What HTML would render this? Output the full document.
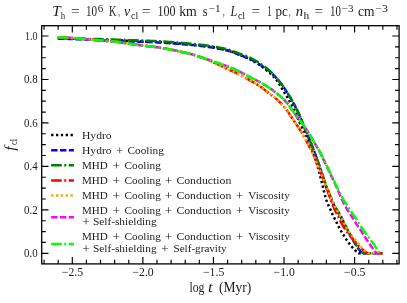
<!DOCTYPE html>
<html><head><meta charset="utf-8"><title>plot</title>
<style>html,body{margin:0;padding:0;background:#fff}svg{display:block}</style></head>
<body>
<svg width="407" height="303" viewBox="0 0 407 303">
<rect x="0" y="0" width="407" height="303" fill="#fff"/>
<path d="M57.80 38.10 L59.40 38.15 L59.89 38.17 L60.44 38.19 L61.04 38.21 L61.70 38.23 L62.38 38.25 L63.09 38.27 L63.82 38.30 L64.56 38.32 L65.30 38.35 L66.05 38.38 L66.80 38.40 L67.54 38.43 L68.29 38.46 L69.04 38.48 L69.79 38.51 L70.54 38.54 L71.29 38.57 L72.04 38.59 L72.79 38.62 L73.54 38.65 L74.29 38.68 L75.04 38.71 L75.79 38.74 L76.54 38.76 L77.29 38.79 L78.04 38.82 L78.79 38.85 L79.54 38.88 L80.29 38.92 L81.03 38.95 L81.78 38.98 L82.53 39.01 L83.28 39.04 L84.03 39.08 L84.78 39.11 L85.53 39.14 L86.28 39.18 L87.03 39.21 L87.78 39.25 L88.53 39.28 L89.28 39.32 L90.03 39.35 L90.77 39.39 L91.52 39.42 L92.27 39.46 L93.02 39.49 L93.77 39.53 L94.52 39.56 L95.27 39.59 L96.02 39.63 L96.77 39.66 L97.52 39.69 L98.27 39.72 L99.02 39.76 L99.77 39.79 L100.52 39.82 L101.26 39.85 L102.01 39.87 L102.76 39.90 L103.51 39.93 L104.26 39.96 L105.01 39.99 L105.76 40.01 L106.51 40.04 L107.26 40.07 L108.01 40.09 L108.76 40.12 L109.51 40.14 L110.26 40.17 L111.01 40.19 L111.76 40.22 L112.51 40.25 L113.26 40.27 L114.01 40.30 L114.76 40.32 L115.51 40.35 L116.26 40.37 L117.00 40.40 L117.75 40.42 L118.50 40.45 L119.25 40.47 L120.00 40.50 L120.75 40.53 L121.50 40.55 L122.25 40.58 L123.00 40.60 L123.75 40.63 L124.50 40.66 L125.25 40.68 L126.00 40.71 L126.75 40.73 L127.50 40.76 L128.25 40.78 L129.00 40.81 L129.75 40.84 L130.50 40.86 L131.25 40.89 L132.00 40.91 L132.75 40.94 L133.50 40.97 L134.24 40.99 L134.99 41.02 L135.74 41.05 L136.49 41.07 L137.24 41.10 L137.99 41.13 L138.74 41.15 L139.49 41.18 L140.24 41.21 L140.99 41.24 L141.74 41.26 L142.49 41.29 L143.24 41.32 L143.99 41.34 L144.74 41.37 L145.49 41.40 L146.24 41.43 L146.99 41.45 L147.74 41.48 L148.49 41.51 L149.24 41.54 L149.99 41.57 L150.73 41.59 L151.48 41.62 L152.23 41.65 L152.98 41.68 L153.73 41.72 L154.48 41.75 L155.23 41.78 L155.98 41.81 L156.73 41.85 L157.48 41.88 L158.23 41.92 L158.98 41.96 L159.72 42.00 L160.47 42.04 L161.22 42.08 L161.97 42.12 L162.72 42.17 L163.47 42.22 L164.22 42.26 L164.96 42.31 L165.71 42.37 L166.46 42.42 L167.21 42.47 L167.96 42.53 L168.70 42.58 L169.45 42.64 L170.20 42.70 L170.95 42.76 L171.70 42.82 L172.44 42.88 L173.19 42.94 L173.94 43.00 L174.69 43.06 L175.43 43.12 L176.18 43.18 L176.93 43.24 L177.68 43.31 L178.42 43.37 L179.17 43.43 L179.92 43.49 L180.67 43.55 L181.41 43.61 L182.16 43.67 L182.91 43.74 L183.66 43.80 L184.41 43.86 L185.15 43.92 L185.90 43.98 L186.65 44.04 L187.40 44.10 L188.14 44.17 L188.89 44.23 L189.64 44.29 L190.39 44.36 L191.13 44.42 L191.88 44.49 L192.63 44.56 L193.38 44.63 L194.12 44.70 L194.87 44.77 L195.61 44.85 L196.36 44.92 L197.11 45.00 L197.85 45.08 L198.60 45.16 L199.34 45.25 L200.09 45.33 L200.83 45.42 L201.57 45.51 L202.32 45.61 L203.06 45.70 L203.80 45.80 L204.55 45.91 L205.29 46.01 L206.03 46.12 L206.77 46.23 L207.52 46.34 L208.26 46.46 L209.00 46.58 L209.74 46.70 L210.48 46.82 L211.22 46.95 L211.96 47.07 L212.70 47.20 L213.44 47.33 L214.18 47.46 L214.91 47.60 L215.65 47.73 L216.39 47.87 L217.13 48.01 L217.87 48.16 L218.60 48.30 L219.34 48.45 L220.08 48.60 L220.81 48.75 L221.55 48.91 L222.28 49.07 L223.02 49.23 L223.75 49.40 L224.48 49.57 L225.21 49.75 L225.94 49.93 L226.66 50.12 L227.38 50.32 L228.10 50.52 L228.82 50.73 L229.53 50.95 L230.24 51.17 L230.94 51.41 L231.65 51.66 L232.35 51.91 L233.05 52.18 L233.74 52.46 L234.44 52.74 L235.13 53.03 L235.82 53.32 L236.51 53.62 L237.20 53.92 L237.89 54.22 L238.58 54.52 L239.27 54.82 L239.96 55.11 L240.66 55.40 L241.35 55.69 L242.05 55.97 L242.74 56.25 L243.44 56.53 L244.14 56.80 L244.84 57.08 L245.54 57.36 L246.23 57.64 L246.92 57.92 L247.61 58.22 L248.30 58.52 L248.98 58.82 L249.66 59.14 L250.33 59.47 L251.00 59.81 L251.66 60.15 L252.32 60.51 L252.98 60.87 L253.63 61.24 L254.28 61.62 L254.92 62.00 L255.57 62.38 L256.21 62.78 L256.84 63.17 L257.48 63.58 L258.11 63.98 L258.74 64.39 L259.36 64.81 L259.98 65.23 L260.60 65.65 L261.21 66.09 L261.82 66.52 L262.42 66.96 L263.02 67.41 L263.62 67.87 L264.21 68.33 L264.80 68.79 L265.39 69.26 L265.97 69.73 L266.54 70.21 L267.12 70.70 L267.69 71.19 L268.25 71.68 L268.82 72.18 L269.38 72.68 L269.93 73.18 L270.49 73.69 L271.04 74.20 L271.58 74.72 L272.13 75.24 L272.66 75.77 L273.19 76.30 L273.72 76.84 L274.23 77.38 L274.73 77.93 L275.23 78.49 L275.71 79.05 L276.18 79.63 L276.64 80.21 L277.09 80.80 L277.53 81.40 L277.96 82.01 L278.38 82.63 L278.79 83.25 L279.19 83.88 L279.59 84.51 L279.99 85.15 L280.37 85.80 L280.76 86.44 L281.14 87.09 L281.52 87.74 L281.90 88.39 L282.28 89.05 L282.67 89.70 L283.05 90.35 L283.43 91.00 L283.82 91.64 L284.20 92.29 L284.59 92.93 L284.98 93.57 L285.37 94.21 L285.76 94.86 L286.16 95.50 L286.55 96.14 L286.94 96.78 L287.33 97.42 L287.72 98.06 L288.11 98.70 L288.49 99.35 L288.87 99.99 L289.25 100.64 L289.62 101.29 L289.99 101.94 L290.36 102.59 L290.72 103.25 L291.09 103.91 L291.44 104.56 L291.80 105.23 L292.15 105.89 L292.50 106.55 L292.84 107.22 L293.18 107.89 L293.52 108.56 L293.86 109.23 L294.19 109.90 L294.51 110.58 L294.83 111.26 L295.15 111.94 L295.46 112.62 L295.77 113.30 L296.07 113.99 L296.36 114.68 L296.65 115.37 L296.93 116.07 L297.21 116.76 L297.48 117.46 L297.75 118.16 L298.02 118.86 L298.30 119.55 L298.58 120.25 L298.86 120.94 L299.15 121.63 L299.45 122.32 L299.77 123.00 L300.09 123.67 L300.42 124.35 L300.76 125.01 L301.11 125.68 L301.47 126.34 L301.83 126.99 L302.19 127.65 L302.56 128.30 L302.92 128.96 L303.28 129.61 L303.64 130.27 L303.99 130.93 L304.33 131.60 L304.67 132.27 L305.00 132.94 L305.33 133.61 L305.65 134.29 L305.97 134.97 L306.29 135.65 L306.60 136.33 L306.92 137.01 L307.23 137.70 L307.54 138.38 L307.85 139.06 L308.16 139.75 L308.46 140.43 L308.77 141.12 L309.07 141.80 L309.37 142.49 L309.67 143.18 L309.96 143.87 L310.25 144.56 L310.54 145.25 L310.83 145.95 L311.11 146.64 L311.39 147.34 L311.66 148.03 L311.93 148.73 L312.20 149.43 L312.46 150.13 L312.73 150.84 L312.98 151.54 L313.24 152.25 L313.49 152.95 L313.73 153.66 L313.98 154.37 L314.22 155.08 L314.46 155.79 L314.69 156.51 L314.92 157.22 L315.15 157.94 L315.37 158.65 L315.59 159.37 L315.81 160.09 L316.02 160.80 L316.23 161.52 L316.44 162.24 L316.65 162.96 L316.86 163.69 L317.07 164.41 L317.27 165.13 L317.48 165.85 L317.68 166.57 L317.89 167.29 L318.09 168.01 L318.29 168.74 L318.49 169.46 L318.68 170.18 L318.87 170.91 L319.06 171.64 L319.24 172.36 L319.42 173.09 L319.60 173.82 L319.78 174.55 L319.97 175.27 L320.15 176.00 L320.34 176.73 L320.52 177.45 L320.71 178.18 L320.90 178.90 L321.09 179.63 L321.28 180.36 L321.46 181.08 L321.64 181.81 L321.82 182.54 L322.00 183.27 L322.17 184.00 L322.34 184.73 L322.51 185.46 L322.68 186.19 L322.86 186.92 L323.03 187.65 L323.21 188.37 L323.39 189.10 L323.57 189.83 L323.76 190.56 L323.95 191.28 L324.14 192.01 L324.33 192.73 L324.53 193.46 L324.72 194.18 L324.91 194.91 L325.11 195.63 L325.31 196.36 L325.51 197.08 L325.71 197.80 L325.92 198.52 L326.13 199.24 L326.35 199.95 L326.59 200.66 L326.83 201.37 L327.09 202.07 L327.35 202.77 L327.63 203.46 L327.92 204.15 L328.22 204.84 L328.52 205.53 L328.83 206.21 L329.14 206.89 L329.45 207.58 L329.76 208.26 L330.07 208.94 L330.38 209.63 L330.69 210.31 L331.00 210.99 L331.31 211.68 L331.62 212.36 L331.93 213.04 L332.24 213.72 L332.56 214.40 L332.88 215.08 L333.20 215.76 L333.53 216.43 L333.87 217.10 L334.21 217.77 L334.55 218.44 L334.89 219.10 L335.24 219.77 L335.58 220.44 L335.92 221.10 L336.26 221.77 L336.60 222.44 L336.93 223.11 L337.26 223.79 L337.59 224.46 L337.92 225.14 L338.24 225.81 L338.57 226.48 L338.91 227.16 L339.24 227.82 L339.59 228.49 L339.95 229.14 L340.31 229.79 L340.69 230.44 L341.07 231.08 L341.46 231.72 L341.85 232.36 L342.25 233.00 L342.65 233.63 L343.04 234.27 L343.44 234.91 L343.84 235.54 L344.24 236.18 L344.64 236.81 L345.04 237.44 L345.45 238.07 L345.86 238.70 L346.27 239.33 L346.69 239.95 L347.12 240.57 L347.55 241.18 L347.98 241.79 L348.42 242.40 L348.86 243.01 L349.31 243.61 L349.76 244.20 L350.22 244.79 L350.69 245.38 L351.16 245.96 L351.64 246.54 L352.13 247.10 L352.63 247.66 L353.13 248.21 L353.64 248.75 L354.15 249.28 L354.66 249.79 L355.17 250.28 L355.66 250.74 L356.14 251.17 L356.58 251.57 L356.98 251.93 L357.34 252.23 L358.50 253.20 L382.60 253.20" fill="none" stroke="#000" stroke-width="2.50" stroke-dasharray="2.3 2.55" stroke-linejoin="round"/>
<path d="M57.80 38.60 L59.40 38.64 L59.89 38.65 L60.44 38.66 L61.05 38.68 L61.70 38.70 L62.38 38.71 L63.10 38.73 L63.82 38.75 L64.56 38.77 L65.30 38.80 L66.05 38.82 L66.80 38.84 L67.55 38.86 L68.30 38.89 L69.05 38.91 L69.80 38.94 L70.55 38.96 L71.30 38.99 L72.04 39.01 L72.79 39.04 L73.54 39.06 L74.29 39.09 L75.04 39.12 L75.79 39.14 L76.54 39.17 L77.29 39.20 L78.04 39.23 L78.79 39.26 L79.54 39.29 L80.29 39.32 L81.04 39.35 L81.79 39.38 L82.54 39.42 L83.29 39.45 L84.03 39.49 L84.78 39.52 L85.53 39.56 L86.28 39.60 L87.03 39.64 L87.78 39.68 L88.53 39.72 L89.28 39.76 L90.03 39.80 L90.78 39.84 L91.52 39.88 L92.27 39.92 L93.02 39.96 L93.77 40.00 L94.52 40.03 L95.27 40.07 L96.02 40.11 L96.77 40.15 L97.52 40.18 L98.27 40.22 L99.02 40.25 L99.76 40.28 L100.51 40.31 L101.26 40.34 L102.01 40.38 L102.76 40.40 L103.51 40.43 L104.26 40.46 L105.01 40.49 L105.76 40.52 L106.51 40.54 L107.26 40.57 L108.01 40.60 L108.76 40.62 L109.51 40.65 L110.26 40.67 L111.01 40.70 L111.76 40.72 L112.51 40.75 L113.26 40.77 L114.00 40.80 L114.75 40.82 L115.50 40.85 L116.25 40.87 L117.00 40.90 L117.75 40.92 L118.50 40.95 L119.25 40.98 L120.00 41.00 L120.75 41.03 L121.50 41.05 L122.25 41.08 L123.00 41.10 L123.75 41.13 L124.50 41.16 L125.25 41.18 L126.00 41.21 L126.75 41.23 L127.50 41.26 L128.25 41.28 L129.00 41.31 L129.75 41.34 L130.50 41.36 L131.25 41.39 L131.99 41.41 L132.74 41.44 L133.49 41.47 L134.24 41.49 L134.99 41.52 L135.74 41.55 L136.49 41.57 L137.24 41.60 L137.99 41.63 L138.74 41.65 L139.49 41.68 L140.24 41.71 L140.99 41.74 L141.74 41.76 L142.49 41.79 L143.24 41.82 L143.99 41.84 L144.74 41.87 L145.49 41.90 L146.24 41.93 L146.99 41.95 L147.74 41.98 L148.48 42.01 L149.23 42.04 L149.98 42.07 L150.73 42.09 L151.48 42.12 L152.23 42.15 L152.98 42.18 L153.73 42.22 L154.48 42.25 L155.23 42.28 L155.98 42.31 L156.73 42.35 L157.48 42.38 L158.23 42.42 L158.97 42.46 L159.72 42.50 L160.47 42.54 L161.22 42.58 L161.97 42.62 L162.72 42.67 L163.47 42.72 L164.21 42.76 L164.96 42.81 L165.71 42.86 L166.46 42.92 L167.21 42.97 L167.95 43.03 L168.70 43.08 L169.45 43.14 L170.20 43.20 L170.95 43.26 L171.69 43.32 L172.44 43.38 L173.19 43.44 L173.94 43.50 L174.68 43.56 L175.43 43.62 L176.18 43.68 L176.93 43.74 L177.68 43.81 L178.42 43.87 L179.17 43.93 L179.92 43.99 L180.67 44.05 L181.41 44.11 L182.16 44.18 L182.91 44.24 L183.66 44.30 L184.40 44.36 L185.15 44.42 L185.90 44.48 L186.65 44.54 L187.39 44.61 L188.14 44.67 L188.89 44.73 L189.64 44.80 L190.38 44.86 L191.13 44.93 L191.88 45.00 L192.63 45.06 L193.37 45.13 L194.12 45.20 L194.87 45.28 L195.61 45.35 L196.36 45.43 L197.10 45.50 L197.85 45.58 L198.59 45.66 L199.34 45.74 L200.08 45.83 L200.83 45.92 L201.57 46.00 L202.32 46.10 L203.06 46.19 L203.81 46.29 L204.55 46.39 L205.29 46.49 L206.04 46.59 L206.78 46.70 L207.52 46.81 L208.26 46.92 L209.00 47.03 L209.75 47.14 L210.49 47.26 L211.23 47.38 L211.97 47.50 L212.71 47.62 L213.45 47.75 L214.19 47.87 L214.93 48.00 L215.67 48.13 L216.41 48.26 L217.14 48.39 L217.88 48.53 L218.62 48.67 L219.36 48.81 L220.10 48.95 L220.84 49.09 L221.58 49.24 L222.31 49.39 L223.05 49.55 L223.78 49.71 L224.51 49.87 L225.24 50.04 L225.97 50.21 L226.70 50.39 L227.42 50.57 L228.15 50.76 L228.87 50.96 L229.58 51.17 L230.30 51.38 L231.01 51.61 L231.72 51.84 L232.42 52.08 L233.12 52.34 L233.83 52.60 L234.53 52.87 L235.22 53.14 L235.92 53.42 L236.62 53.70 L237.31 53.99 L238.01 54.27 L238.71 54.55 L239.41 54.83 L240.11 55.10 L240.81 55.37 L241.51 55.63 L242.22 55.89 L242.92 56.15 L243.63 56.41 L244.34 56.66 L245.04 56.92 L245.75 57.18 L246.45 57.44 L247.15 57.71 L247.84 57.98 L248.54 58.27 L249.22 58.56 L249.90 58.87 L250.58 59.18 L251.25 59.51 L251.92 59.85 L252.58 60.20 L253.24 60.55 L253.90 60.92 L254.55 61.29 L255.20 61.67 L255.84 62.05 L256.49 62.44 L257.12 62.83 L257.76 63.22 L258.40 63.63 L259.03 64.03 L259.66 64.44 L260.29 64.84 L260.92 65.26 L261.54 65.67 L262.17 66.09 L262.80 66.50 L263.42 66.92 L264.05 67.34 L264.67 67.76 L265.29 68.19 L265.91 68.62 L266.53 69.05 L267.14 69.49 L267.75 69.93 L268.35 70.38 L268.94 70.84 L269.52 71.30 L270.10 71.78 L270.66 72.26 L271.21 72.76 L271.76 73.27 L272.29 73.79 L272.82 74.32 L273.34 74.86 L273.85 75.40 L274.36 75.94 L274.87 76.49 L275.38 77.04 L275.89 77.60 L276.40 78.15 L276.90 78.70 L277.40 79.26 L277.90 79.82 L278.39 80.39 L278.88 80.95 L279.37 81.53 L279.84 82.11 L280.31 82.69 L280.78 83.28 L281.24 83.87 L281.69 84.47 L282.14 85.07 L282.58 85.67 L283.02 86.28 L283.45 86.89 L283.88 87.51 L284.30 88.13 L284.72 88.75 L285.14 89.37 L285.55 90.00 L285.95 90.63 L286.36 91.26 L286.76 91.90 L287.16 92.53 L287.56 93.17 L287.96 93.80 L288.35 94.44 L288.74 95.08 L289.13 95.72 L289.52 96.36 L289.91 97.01 L290.29 97.65 L290.67 98.30 L291.05 98.95 L291.43 99.59 L291.80 100.24 L292.18 100.89 L292.55 101.54 L292.92 102.20 L293.28 102.85 L293.65 103.51 L294.01 104.16 L294.37 104.82 L294.73 105.48 L295.08 106.14 L295.43 106.81 L295.78 107.47 L296.12 108.14 L296.46 108.81 L296.80 109.48 L297.13 110.15 L297.46 110.82 L297.79 111.50 L298.11 112.17 L298.43 112.85 L298.74 113.53 L299.05 114.22 L299.36 114.90 L299.66 115.59 L299.96 116.27 L300.26 116.96 L300.55 117.65 L300.83 118.35 L301.12 119.04 L301.40 119.74 L301.67 120.43 L301.95 121.13 L302.22 121.83 L302.49 122.53 L302.77 123.23 L303.04 123.93 L303.31 124.63 L303.58 125.33 L303.85 126.02 L304.13 126.72 L304.40 127.42 L304.68 128.12 L304.96 128.82 L305.23 129.51 L305.51 130.21 L305.79 130.90 L306.07 131.60 L306.36 132.29 L306.64 132.99 L306.93 133.68 L307.22 134.37 L307.51 135.06 L307.80 135.75 L308.10 136.44 L308.39 137.13 L308.69 137.82 L308.98 138.51 L309.28 139.20 L309.57 139.89 L309.87 140.58 L310.16 141.27 L310.45 141.96 L310.74 142.65 L311.03 143.35 L311.31 144.04 L311.59 144.74 L311.87 145.43 L312.15 146.13 L312.43 146.82 L312.70 147.52 L312.98 148.22 L313.24 148.92 L313.51 149.62 L313.78 150.32 L314.04 151.03 L314.30 151.73 L314.55 152.43 L314.81 153.14 L315.06 153.85 L315.32 154.55 L315.57 155.26 L315.82 155.97 L316.06 156.67 L316.31 157.38 L316.56 158.09 L316.80 158.80 L317.04 159.51 L317.29 160.22 L317.53 160.93 L317.77 161.64 L318.01 162.35 L318.25 163.06 L318.49 163.77 L318.72 164.48 L318.96 165.20 L319.20 165.91 L319.43 166.62 L319.67 167.33 L319.90 168.04 L320.14 168.76 L320.37 169.47 L320.60 170.18 L320.83 170.90 L321.07 171.61 L321.30 172.32 L321.53 173.04 L321.76 173.75 L321.99 174.46 L322.22 175.18 L322.44 175.89 L322.67 176.61 L322.90 177.32 L323.13 178.03 L323.36 178.75 L323.59 179.46 L323.82 180.18 L324.06 180.89 L324.29 181.60 L324.52 182.31 L324.76 183.03 L325.00 183.74 L325.24 184.45 L325.49 185.16 L325.73 185.86 L325.98 186.57 L326.24 187.27 L326.50 187.98 L326.76 188.68 L327.03 189.38 L327.30 190.08 L327.57 190.78 L327.85 191.48 L328.13 192.17 L328.41 192.87 L328.69 193.56 L328.98 194.26 L329.27 194.95 L329.56 195.64 L329.85 196.33 L330.14 197.02 L330.44 197.71 L330.74 198.40 L331.04 199.09 L331.35 199.77 L331.66 200.46 L331.97 201.14 L332.30 201.81 L332.63 202.48 L332.97 203.15 L333.32 203.81 L333.68 204.47 L334.04 205.12 L334.42 205.77 L334.80 206.41 L335.19 207.05 L335.58 207.69 L335.98 208.32 L336.38 208.96 L336.79 209.59 L337.19 210.22 L337.59 210.86 L337.99 211.49 L338.39 212.13 L338.79 212.77 L339.17 213.41 L339.56 214.05 L339.93 214.70 L340.30 215.35 L340.67 216.00 L341.02 216.66 L341.37 217.32 L341.72 217.99 L342.05 218.66 L342.39 219.33 L342.72 220.00 L343.05 220.68 L343.37 221.36 L343.70 222.03 L344.02 222.71 L344.34 223.39 L344.65 224.07 L344.97 224.75 L345.29 225.43 L345.61 226.11 L345.93 226.78 L346.25 227.46 L346.58 228.14 L346.91 228.81 L347.25 229.48 L347.58 230.15 L347.93 230.81 L348.27 231.48 L348.63 232.14 L348.98 232.80 L349.34 233.46 L349.70 234.12 L350.06 234.78 L350.42 235.43 L350.79 236.09 L351.16 236.74 L351.52 237.40 L351.89 238.05 L352.26 238.71 L352.63 239.36 L353.00 240.01 L353.37 240.66 L353.74 241.31 L354.12 241.96 L354.50 242.61 L354.89 243.25 L355.28 243.89 L355.67 244.53 L356.07 245.16 L356.47 245.79 L356.88 246.42 L357.30 247.04 L357.71 247.66 L358.14 248.26 L358.56 248.86 L358.98 249.44 L359.40 249.99 L359.80 250.52 L360.19 251.01 L360.54 251.45 L360.86 251.85 L361.14 252.18 L362.00 253.20 L382.60 253.20" fill="none" stroke="#0000ff" stroke-width="2.50" stroke-dasharray="6.4 2.45" stroke-linejoin="round"/>
<path d="M57.80 38.10 L59.40 38.16 L59.89 38.18 L60.44 38.20 L61.04 38.23 L61.70 38.25 L62.38 38.28 L63.09 38.30 L63.82 38.33 L64.56 38.35 L65.30 38.38 L66.05 38.41 L66.80 38.43 L67.54 38.46 L68.29 38.48 L69.04 38.51 L69.79 38.53 L70.54 38.55 L71.29 38.58 L72.04 38.60 L72.79 38.62 L73.54 38.64 L74.29 38.66 L75.04 38.68 L75.79 38.70 L76.54 38.72 L77.29 38.74 L78.04 38.75 L78.79 38.77 L79.54 38.78 L80.29 38.80 L81.04 38.81 L81.79 38.83 L82.54 38.84 L83.29 38.85 L84.04 38.87 L84.79 38.88 L85.54 38.89 L86.29 38.90 L87.04 38.91 L87.79 38.92 L88.54 38.93 L89.29 38.94 L90.04 38.95 L90.79 38.96 L91.54 38.97 L92.29 38.98 L93.04 38.99 L93.79 39.00 L94.54 39.01 L95.29 39.02 L96.04 39.03 L96.79 39.05 L97.54 39.06 L98.29 39.07 L99.04 39.09 L99.79 39.10 L100.54 39.12 L101.29 39.14 L102.04 39.16 L102.79 39.18 L103.53 39.20 L104.28 39.22 L105.03 39.24 L105.78 39.27 L106.53 39.29 L107.28 39.32 L108.03 39.35 L108.78 39.37 L109.53 39.40 L110.28 39.43 L111.03 39.46 L111.78 39.49 L112.53 39.51 L113.28 39.54 L114.03 39.57 L114.78 39.60 L115.53 39.63 L116.28 39.66 L117.03 39.69 L117.78 39.72 L118.53 39.74 L119.27 39.77 L120.02 39.80 L120.77 39.82 L121.52 39.85 L122.27 39.88 L123.02 39.90 L123.77 39.93 L124.52 39.96 L125.27 39.98 L126.02 40.01 L126.77 40.03 L127.52 40.06 L128.27 40.09 L129.02 40.11 L129.77 40.14 L130.52 40.16 L131.27 40.19 L132.02 40.21 L132.77 40.24 L133.52 40.27 L134.27 40.29 L135.02 40.32 L135.77 40.35 L136.51 40.37 L137.26 40.40 L138.01 40.43 L138.76 40.45 L139.51 40.48 L140.26 40.51 L141.01 40.54 L141.76 40.56 L142.51 40.59 L143.26 40.62 L144.01 40.65 L144.76 40.67 L145.51 40.70 L146.26 40.73 L147.01 40.75 L147.76 40.78 L148.51 40.81 L149.26 40.84 L150.01 40.87 L150.76 40.90 L151.51 40.92 L152.26 40.95 L153.00 40.99 L153.75 41.02 L154.50 41.05 L155.25 41.08 L156.00 41.11 L156.75 41.15 L157.50 41.18 L158.25 41.22 L159.00 41.26 L159.75 41.30 L160.49 41.34 L161.24 41.38 L161.99 41.43 L162.74 41.47 L163.49 41.52 L164.24 41.57 L164.99 41.62 L165.73 41.67 L166.48 41.72 L167.23 41.77 L167.98 41.83 L168.73 41.88 L169.47 41.94 L170.22 42.00 L170.97 42.06 L171.72 42.12 L172.46 42.18 L173.21 42.24 L173.96 42.30 L174.71 42.36 L175.46 42.42 L176.20 42.48 L176.95 42.55 L177.70 42.61 L178.45 42.67 L179.19 42.73 L179.94 42.79 L180.69 42.85 L181.44 42.92 L182.18 42.98 L182.93 43.04 L183.68 43.10 L184.43 43.16 L185.17 43.22 L185.92 43.28 L186.67 43.35 L187.42 43.41 L188.17 43.47 L188.91 43.54 L189.66 43.60 L190.41 43.67 L191.15 43.73 L191.90 43.80 L192.65 43.87 L193.40 43.94 L194.14 44.01 L194.89 44.08 L195.63 44.15 L196.38 44.23 L197.13 44.30 L197.87 44.38 L198.62 44.46 L199.36 44.55 L200.11 44.63 L200.85 44.72 L201.60 44.81 L202.34 44.90 L203.08 44.99 L203.83 45.09 L204.57 45.19 L205.31 45.29 L206.06 45.40 L206.80 45.50 L207.54 45.61 L208.28 45.72 L209.03 45.83 L209.77 45.95 L210.51 46.07 L211.25 46.18 L211.99 46.30 L212.73 46.43 L213.47 46.55 L214.21 46.68 L214.95 46.80 L215.69 46.93 L216.43 47.06 L217.17 47.20 L217.91 47.33 L218.65 47.47 L219.38 47.61 L220.12 47.75 L220.86 47.90 L221.60 48.05 L222.33 48.20 L223.07 48.35 L223.80 48.51 L224.54 48.67 L225.27 48.84 L226.00 49.01 L226.72 49.19 L227.45 49.38 L228.17 49.57 L228.89 49.77 L229.60 49.97 L230.32 50.19 L231.03 50.41 L231.74 50.65 L232.44 50.89 L233.15 51.15 L233.85 51.41 L234.55 51.68 L235.25 51.95 L235.94 52.23 L236.64 52.51 L237.34 52.79 L238.03 53.08 L238.73 53.36 L239.43 53.63 L240.13 53.91 L240.83 54.18 L241.54 54.44 L242.24 54.70 L242.95 54.96 L243.65 55.22 L244.36 55.47 L245.06 55.73 L245.77 55.98 L246.47 56.25 L247.17 56.51 L247.87 56.79 L248.56 57.08 L249.24 57.37 L249.93 57.68 L250.60 57.99 L251.27 58.32 L251.94 58.66 L252.61 59.01 L253.26 59.36 L253.92 59.73 L254.57 60.10 L255.22 60.47 L255.87 60.86 L256.51 61.24 L257.15 61.63 L257.79 62.03 L258.42 62.43 L259.05 62.84 L259.68 63.25 L260.31 63.66 L260.93 64.08 L261.55 64.50 L262.16 64.93 L262.78 65.36 L263.39 65.80 L264.00 66.24 L264.60 66.69 L265.20 67.14 L265.80 67.59 L266.40 68.05 L266.99 68.52 L267.58 68.98 L268.16 69.46 L268.73 69.94 L269.30 70.43 L269.86 70.92 L270.41 71.43 L270.96 71.94 L271.49 72.46 L272.02 72.99 L272.54 73.52 L273.06 74.07 L273.56 74.62 L274.06 75.18 L274.56 75.74 L275.05 76.31 L275.53 76.88 L276.02 77.45 L276.50 78.03 L276.98 78.60 L277.46 79.18 L277.93 79.76 L278.41 80.34 L278.88 80.93 L279.35 81.51 L279.82 82.09 L280.29 82.68 L280.75 83.27 L281.21 83.86 L281.67 84.46 L282.12 85.06 L282.56 85.66 L283.00 86.26 L283.44 86.88 L283.86 87.49 L284.29 88.11 L284.71 88.73 L285.12 89.35 L285.53 89.98 L285.94 90.61 L286.35 91.24 L286.75 91.88 L287.15 92.51 L287.55 93.15 L287.94 93.78 L288.34 94.42 L288.73 95.06 L289.12 95.70 L289.51 96.34 L289.89 96.99 L290.28 97.63 L290.66 98.28 L291.04 98.92 L291.42 99.57 L291.79 100.22 L292.17 100.87 L292.54 101.52 L292.91 102.18 L293.27 102.83 L293.64 103.49 L294.00 104.14 L294.36 104.80 L294.72 105.46 L295.07 106.12 L295.42 106.78 L295.77 107.45 L296.11 108.12 L296.45 108.78 L296.79 109.45 L297.12 110.13 L297.45 110.80 L297.78 111.47 L298.10 112.15 L298.42 112.83 L298.73 113.51 L299.04 114.19 L299.35 114.88 L299.65 115.56 L299.95 116.25 L300.25 116.94 L300.54 117.63 L300.83 118.32 L301.11 119.02 L301.39 119.71 L301.67 120.41 L301.94 121.11 L302.21 121.81 L302.49 122.51 L302.76 123.21 L303.03 123.90 L303.30 124.60 L303.57 125.30 L303.85 126.00 L304.12 126.70 L304.39 127.40 L304.67 128.10 L304.95 128.79 L305.22 129.49 L305.50 130.19 L305.78 130.88 L306.07 131.58 L306.35 132.27 L306.63 132.96 L306.92 133.66 L307.21 134.35 L307.50 135.04 L307.79 135.73 L308.09 136.42 L308.38 137.11 L308.68 137.80 L308.97 138.49 L309.27 139.18 L309.56 139.87 L309.86 140.56 L310.15 141.25 L310.44 141.94 L310.73 142.63 L311.02 143.33 L311.30 144.02 L311.58 144.71 L311.87 145.41 L312.14 146.11 L312.42 146.80 L312.69 147.50 L312.96 148.20 L313.23 148.90 L313.50 149.60 L313.76 150.30 L314.02 151.01 L314.27 151.71 L314.53 152.42 L314.79 153.12 L315.04 153.83 L315.29 154.53 L315.55 155.24 L315.81 155.94 L316.07 156.65 L316.33 157.35 L316.59 158.05 L316.86 158.75 L317.13 159.45 L317.40 160.15 L317.67 160.85 L317.94 161.55 L318.21 162.25 L318.48 162.95 L318.75 163.65 L319.02 164.35 L319.28 165.05 L319.54 165.76 L319.79 166.46 L320.04 167.17 L320.29 167.88 L320.54 168.58 L320.78 169.29 L321.02 170.00 L321.26 170.72 L321.50 171.43 L321.73 172.14 L321.96 172.85 L322.20 173.57 L322.43 174.28 L322.66 174.99 L322.89 175.71 L323.12 176.42 L323.35 177.14 L323.58 177.85 L323.81 178.56 L324.04 179.28 L324.28 179.99 L324.51 180.70 L324.75 181.41 L324.99 182.12 L325.24 182.83 L325.48 183.54 L325.73 184.25 L325.99 184.95 L326.24 185.66 L326.50 186.36 L326.77 187.06 L327.03 187.76 L327.30 188.46 L327.58 189.16 L327.86 189.85 L328.14 190.55 L328.42 191.24 L328.71 191.94 L329.00 192.63 L329.28 193.32 L329.57 194.01 L329.86 194.71 L330.15 195.40 L330.43 196.09 L330.72 196.79 L331.01 197.48 L331.30 198.17 L331.58 198.87 L331.87 199.56 L332.16 200.25 L332.46 200.94 L332.75 201.63 L333.05 202.32 L333.35 203.00 L333.66 203.69 L333.97 204.37 L334.28 205.05 L334.60 205.73 L334.92 206.41 L335.24 207.08 L335.57 207.76 L335.90 208.43 L336.24 209.10 L336.58 209.77 L336.92 210.43 L337.27 211.10 L337.62 211.76 L337.98 212.42 L338.33 213.08 L338.69 213.74 L339.05 214.40 L339.40 215.06 L339.76 215.72 L340.12 216.38 L340.48 217.04 L340.83 217.70 L341.19 218.36 L341.55 219.02 L341.91 219.68 L342.26 220.34 L342.62 220.99 L342.99 221.65 L343.35 222.31 L343.72 222.96 L344.09 223.61 L344.46 224.27 L344.83 224.92 L345.20 225.57 L345.58 226.21 L345.95 226.86 L346.33 227.51 L346.70 228.17 L347.07 228.82 L347.44 229.47 L347.80 230.13 L348.16 230.78 L348.52 231.44 L348.88 232.10 L349.24 232.76 L349.59 233.42 L349.95 234.08 L350.30 234.74 L350.66 235.40 L351.02 236.06 L351.38 236.72 L351.74 237.37 L352.11 238.03 L352.48 238.68 L352.85 239.33 L353.22 239.98 L353.60 240.63 L353.98 241.28 L354.36 241.92 L354.75 242.57 L355.13 243.21 L355.52 243.86 L355.92 244.50 L356.31 245.14 L356.71 245.77 L357.12 246.40 L357.53 247.03 L357.95 247.64 L358.37 248.25 L358.81 248.83 L359.25 249.40 L359.69 249.95 L360.13 250.47 L360.56 250.95 L360.96 251.39 L361.33 251.78 L361.67 252.12 L362.80 253.20 L382.60 253.20" fill="none" stroke="#008000" stroke-width="2.50" stroke-dasharray="10.6 2.5 2.0 2.5" stroke-linejoin="round"/>
<path d="M57.80 37.20 L59.40 37.27 L59.89 37.29 L60.44 37.32 L61.04 37.35 L61.70 37.38 L62.38 37.41 L63.09 37.45 L63.82 37.48 L64.56 37.52 L65.30 37.56 L66.05 37.60 L66.79 37.64 L67.54 37.68 L68.29 37.73 L69.04 37.77 L69.79 37.82 L70.54 37.86 L71.28 37.91 L72.03 37.96 L72.78 38.01 L73.53 38.05 L74.28 38.10 L75.03 38.15 L75.77 38.21 L76.52 38.26 L77.27 38.31 L78.02 38.36 L78.76 38.42 L79.51 38.48 L80.26 38.53 L81.01 38.59 L81.75 38.65 L82.50 38.71 L83.25 38.78 L84.00 38.84 L84.74 38.91 L85.49 38.98 L86.24 39.05 L86.98 39.12 L87.73 39.19 L88.48 39.27 L89.22 39.34 L89.97 39.42 L90.72 39.49 L91.46 39.57 L92.21 39.64 L92.95 39.72 L93.70 39.79 L94.45 39.87 L95.19 39.94 L95.94 40.01 L96.69 40.08 L97.43 40.15 L98.18 40.22 L98.93 40.29 L99.67 40.36 L100.42 40.42 L101.17 40.48 L101.92 40.54 L102.67 40.60 L103.41 40.66 L104.16 40.72 L104.91 40.78 L105.66 40.83 L106.41 40.89 L107.15 40.95 L107.90 41.00 L108.65 41.06 L109.40 41.12 L110.14 41.18 L110.89 41.24 L111.64 41.31 L112.39 41.37 L113.13 41.45 L113.88 41.52 L114.62 41.60 L115.37 41.68 L116.11 41.76 L116.86 41.85 L117.60 41.94 L118.34 42.04 L119.09 42.14 L119.83 42.25 L120.57 42.35 L121.31 42.46 L122.05 42.57 L122.79 42.69 L123.54 42.80 L124.28 42.92 L125.02 43.03 L125.76 43.15 L126.50 43.26 L127.24 43.38 L127.99 43.49 L128.73 43.60 L129.47 43.71 L130.21 43.82 L130.96 43.92 L131.70 44.03 L132.44 44.13 L133.18 44.24 L133.93 44.34 L134.67 44.44 L135.41 44.54 L136.16 44.64 L136.90 44.74 L137.64 44.84 L138.39 44.94 L139.13 45.04 L139.87 45.14 L140.62 45.23 L141.36 45.33 L142.10 45.43 L142.85 45.52 L143.59 45.61 L144.34 45.71 L145.08 45.80 L145.83 45.89 L146.57 45.98 L147.32 46.07 L148.06 46.16 L148.81 46.25 L149.55 46.33 L150.30 46.42 L151.04 46.51 L151.79 46.60 L152.53 46.68 L153.28 46.77 L154.02 46.87 L154.76 46.96 L155.51 47.05 L156.25 47.15 L156.99 47.25 L157.74 47.35 L158.48 47.45 L159.22 47.56 L159.96 47.67 L160.70 47.78 L161.45 47.90 L162.19 48.01 L162.93 48.14 L163.67 48.26 L164.41 48.39 L165.14 48.52 L165.88 48.65 L166.62 48.78 L167.36 48.92 L168.10 49.05 L168.83 49.19 L169.57 49.34 L170.30 49.48 L171.04 49.63 L171.77 49.78 L172.51 49.93 L173.24 50.08 L173.98 50.24 L174.71 50.40 L175.44 50.56 L176.18 50.72 L176.91 50.88 L177.64 51.04 L178.37 51.20 L179.11 51.36 L179.84 51.52 L180.57 51.68 L181.31 51.84 L182.04 52.00 L182.77 52.16 L183.51 52.32 L184.24 52.48 L184.97 52.64 L185.70 52.80 L186.43 52.97 L187.16 53.14 L187.89 53.32 L188.62 53.50 L189.35 53.68 L190.07 53.87 L190.79 54.07 L191.51 54.27 L192.23 54.48 L192.95 54.69 L193.67 54.91 L194.38 55.14 L195.10 55.36 L195.81 55.60 L196.53 55.83 L197.24 56.07 L197.95 56.31 L198.66 56.55 L199.37 56.79 L200.08 57.04 L200.79 57.28 L201.50 57.53 L202.20 57.78 L202.91 58.03 L203.62 58.29 L204.32 58.54 L205.03 58.80 L205.73 59.06 L206.43 59.33 L207.13 59.60 L207.83 59.87 L208.52 60.15 L209.22 60.43 L209.91 60.71 L210.60 61.00 L211.29 61.30 L211.98 61.60 L212.66 61.90 L213.35 62.21 L214.03 62.53 L214.71 62.84 L215.39 63.16 L216.06 63.49 L216.74 63.81 L217.41 64.14 L218.09 64.47 L218.76 64.81 L219.43 65.14 L220.10 65.47 L220.77 65.81 L221.45 66.14 L222.12 66.47 L222.79 66.80 L223.47 67.13 L224.14 67.45 L224.82 67.78 L225.50 68.09 L226.18 68.41 L226.86 68.72 L227.55 69.03 L228.23 69.33 L228.92 69.64 L229.60 69.94 L230.29 70.24 L230.98 70.55 L231.66 70.85 L232.35 71.15 L233.04 71.46 L233.72 71.76 L234.40 72.08 L235.08 72.39 L235.76 72.71 L236.44 73.03 L237.11 73.36 L237.78 73.69 L238.45 74.03 L239.12 74.37 L239.78 74.71 L240.44 75.06 L241.11 75.41 L241.77 75.77 L242.42 76.13 L243.08 76.49 L243.74 76.86 L244.39 77.22 L245.05 77.59 L245.70 77.96 L246.35 78.33 L247.00 78.71 L247.65 79.08 L248.31 79.45 L248.96 79.82 L249.61 80.20 L250.26 80.57 L250.91 80.94 L251.57 81.32 L252.22 81.69 L252.87 82.06 L253.52 82.44 L254.17 82.82 L254.82 83.19 L255.47 83.57 L256.12 83.96 L256.76 84.34 L257.40 84.73 L258.04 85.13 L258.67 85.53 L259.30 85.93 L259.93 86.34 L260.54 86.76 L261.16 87.19 L261.77 87.62 L262.37 88.06 L262.96 88.51 L263.55 88.97 L264.14 89.44 L264.72 89.91 L265.30 90.38 L265.88 90.86 L266.46 91.33 L267.04 91.81 L267.62 92.29 L268.21 92.76 L268.80 93.22 L269.39 93.68 L269.99 94.14 L270.59 94.59 L271.20 95.04 L271.80 95.48 L272.41 95.93 L273.02 96.37 L273.63 96.81 L274.23 97.26 L274.82 97.71 L275.41 98.17 L276.00 98.64 L276.57 99.12 L277.13 99.60 L277.68 100.10 L278.23 100.61 L278.76 101.13 L279.28 101.66 L279.80 102.20 L280.31 102.75 L280.81 103.30 L281.31 103.86 L281.81 104.42 L282.32 104.98 L282.82 105.54 L283.32 106.10 L283.82 106.66 L284.32 107.22 L284.81 107.78 L285.29 108.35 L285.77 108.92 L286.24 109.50 L286.69 110.09 L287.13 110.69 L287.57 111.30 L287.99 111.92 L288.41 112.54 L288.82 113.17 L289.23 113.80 L289.64 114.43 L290.05 115.06 L290.46 115.69 L290.88 116.31 L291.29 116.94 L291.71 117.56 L292.13 118.19 L292.54 118.81 L292.96 119.43 L293.38 120.05 L293.80 120.67 L294.22 121.29 L294.64 121.92 L295.07 122.54 L295.49 123.16 L295.91 123.78 L296.33 124.39 L296.76 125.01 L297.19 125.63 L297.62 126.24 L298.05 126.86 L298.47 127.47 L298.89 128.09 L299.31 128.71 L299.72 129.34 L300.12 129.97 L300.52 130.60 L300.90 131.25 L301.28 131.89 L301.66 132.54 L302.03 133.19 L302.41 133.84 L302.78 134.49 L303.15 135.14 L303.52 135.79 L303.90 136.44 L304.27 137.10 L304.64 137.75 L305.01 138.40 L305.37 139.05 L305.74 139.71 L306.09 140.37 L306.45 141.03 L306.80 141.69 L307.15 142.36 L307.49 143.02 L307.84 143.69 L308.18 144.35 L308.53 145.02 L308.88 145.68 L309.22 146.35 L309.57 147.01 L309.92 147.68 L310.27 148.34 L310.62 149.01 L310.96 149.67 L311.30 150.34 L311.63 151.01 L311.96 151.69 L312.28 152.36 L312.59 153.04 L312.90 153.73 L313.20 154.41 L313.50 155.10 L313.80 155.79 L314.09 156.48 L314.38 157.17 L314.67 157.86 L314.95 158.56 L315.24 159.25 L315.52 159.95 L315.80 160.64 L316.08 161.34 L316.36 162.04 L316.64 162.73 L316.92 163.43 L317.20 164.12 L317.48 164.82 L317.76 165.52 L318.04 166.21 L318.32 166.91 L318.60 167.60 L318.88 168.30 L319.16 168.99 L319.44 169.69 L319.72 170.38 L320.01 171.08 L320.29 171.77 L320.57 172.47 L320.85 173.16 L321.13 173.86 L321.42 174.55 L321.70 175.25 L321.98 175.94 L322.26 176.64 L322.55 177.33 L322.83 178.03 L323.11 178.72 L323.39 179.42 L323.67 180.11 L323.94 180.81 L324.22 181.51 L324.49 182.21 L324.76 182.91 L325.03 183.61 L325.29 184.31 L325.55 185.01 L325.81 185.72 L326.06 186.42 L326.32 187.13 L326.57 187.83 L326.83 188.54 L327.08 189.25 L327.33 189.95 L327.59 190.66 L327.84 191.36 L328.09 192.07 L328.35 192.77 L328.60 193.48 L328.85 194.19 L329.10 194.90 L329.35 195.60 L329.59 196.31 L329.83 197.02 L330.07 197.73 L330.31 198.45 L330.55 199.16 L330.79 199.87 L331.03 200.58 L331.27 201.28 L331.52 201.99 L331.78 202.69 L332.05 203.39 L332.32 204.09 L332.61 204.78 L332.90 205.47 L333.19 206.16 L333.50 206.85 L333.81 207.53 L334.12 208.21 L334.44 208.89 L334.76 209.57 L335.08 210.25 L335.40 210.92 L335.73 211.60 L336.06 212.27 L336.39 212.95 L336.72 213.62 L337.05 214.29 L337.38 214.96 L337.72 215.64 L338.05 216.31 L338.39 216.98 L338.72 217.65 L339.06 218.32 L339.39 218.99 L339.73 219.66 L340.06 220.33 L340.40 221.00 L340.74 221.67 L341.08 222.34 L341.42 223.01 L341.77 223.68 L342.12 224.34 L342.47 225.00 L342.83 225.66 L343.20 226.31 L343.57 226.96 L343.96 227.60 L344.35 228.24 L344.75 228.87 L345.17 229.49 L345.59 230.10 L346.03 230.71 L346.47 231.31 L346.93 231.91 L347.39 232.50 L347.85 233.09 L348.32 233.68 L348.79 234.26 L349.26 234.84 L349.74 235.43 L350.21 236.01 L350.69 236.58 L351.17 237.16 L351.65 237.74 L352.13 238.31 L352.61 238.89 L353.09 239.46 L353.58 240.03 L354.07 240.60 L354.55 241.17 L355.04 241.74 L355.53 242.31 L356.03 242.88 L356.52 243.45 L357.01 244.01 L357.51 244.57 L358.01 245.13 L358.51 245.69 L359.02 246.24 L359.53 246.79 L360.05 247.33 L360.58 247.86 L361.12 248.37 L361.66 248.88 L362.21 249.36 L362.77 249.84 L363.32 250.29 L363.87 250.72 L364.41 251.12 L364.93 251.50 L365.41 251.84 L365.85 252.14 L366.24 252.40 L367.50 253.20 L382.60 253.20" fill="none" stroke="#ff0000" stroke-width="2.50" stroke-dasharray="10.6 2.5 2.0 2.5" stroke-linejoin="round"/>
<path d="M57.80 37.20 L59.40 37.27 L59.89 37.29 L60.44 37.32 L61.04 37.35 L61.70 37.38 L62.38 37.41 L63.09 37.45 L63.82 37.48 L64.56 37.52 L65.30 37.56 L66.05 37.60 L66.79 37.64 L67.54 37.68 L68.29 37.73 L69.04 37.77 L69.79 37.82 L70.54 37.86 L71.28 37.91 L72.03 37.96 L72.78 38.01 L73.53 38.05 L74.28 38.10 L75.03 38.15 L75.77 38.21 L76.52 38.26 L77.27 38.31 L78.02 38.36 L78.76 38.42 L79.51 38.48 L80.26 38.53 L81.01 38.59 L81.75 38.65 L82.50 38.71 L83.25 38.78 L84.00 38.84 L84.74 38.91 L85.49 38.98 L86.24 39.05 L86.98 39.12 L87.73 39.19 L88.48 39.27 L89.22 39.34 L89.97 39.42 L90.72 39.49 L91.46 39.57 L92.21 39.64 L92.95 39.72 L93.70 39.79 L94.45 39.87 L95.19 39.94 L95.94 40.01 L96.69 40.08 L97.43 40.15 L98.18 40.22 L98.93 40.29 L99.67 40.36 L100.42 40.42 L101.17 40.48 L101.92 40.54 L102.67 40.60 L103.41 40.66 L104.16 40.72 L104.91 40.78 L105.66 40.83 L106.41 40.89 L107.15 40.95 L107.90 41.00 L108.65 41.06 L109.40 41.12 L110.14 41.18 L110.89 41.24 L111.64 41.31 L112.39 41.37 L113.13 41.45 L113.88 41.52 L114.62 41.60 L115.37 41.68 L116.11 41.76 L116.86 41.85 L117.60 41.94 L118.34 42.04 L119.09 42.14 L119.83 42.25 L120.57 42.35 L121.31 42.46 L122.05 42.57 L122.79 42.69 L123.54 42.80 L124.28 42.92 L125.02 43.03 L125.76 43.15 L126.50 43.26 L127.24 43.38 L127.99 43.49 L128.73 43.60 L129.47 43.71 L130.21 43.82 L130.96 43.92 L131.70 44.03 L132.44 44.13 L133.18 44.24 L133.93 44.34 L134.67 44.44 L135.41 44.54 L136.16 44.64 L136.90 44.74 L137.64 44.84 L138.39 44.94 L139.13 45.04 L139.87 45.14 L140.62 45.23 L141.36 45.33 L142.10 45.43 L142.85 45.52 L143.59 45.61 L144.34 45.71 L145.08 45.80 L145.83 45.89 L146.57 45.98 L147.32 46.07 L148.06 46.16 L148.81 46.25 L149.55 46.33 L150.30 46.42 L151.04 46.51 L151.79 46.60 L152.53 46.68 L153.28 46.77 L154.02 46.87 L154.76 46.96 L155.51 47.05 L156.25 47.15 L156.99 47.25 L157.74 47.35 L158.48 47.45 L159.22 47.56 L159.96 47.67 L160.70 47.78 L161.45 47.90 L162.19 48.01 L162.93 48.14 L163.67 48.26 L164.41 48.39 L165.14 48.52 L165.88 48.65 L166.62 48.78 L167.36 48.92 L168.10 49.05 L168.83 49.19 L169.57 49.34 L170.30 49.48 L171.04 49.63 L171.77 49.78 L172.51 49.93 L173.24 50.08 L173.98 50.24 L174.71 50.40 L175.44 50.56 L176.18 50.72 L176.91 50.88 L177.64 51.04 L178.37 51.20 L179.11 51.36 L179.84 51.52 L180.57 51.68 L181.31 51.84 L182.04 52.00 L182.77 52.16 L183.51 52.32 L184.24 52.48 L184.97 52.64 L185.70 52.80 L186.43 52.97 L187.16 53.14 L187.89 53.32 L188.62 53.50 L189.35 53.68 L190.07 53.87 L190.79 54.07 L191.51 54.27 L192.23 54.48 L192.95 54.69 L193.67 54.91 L194.38 55.14 L195.10 55.36 L195.81 55.60 L196.53 55.83 L197.24 56.07 L197.95 56.31 L198.66 56.55 L199.37 56.79 L200.08 57.04 L200.79 57.28 L201.50 57.53 L202.20 57.78 L202.91 58.03 L203.62 58.29 L204.32 58.54 L205.03 58.80 L205.73 59.06 L206.43 59.33 L207.13 59.60 L207.83 59.87 L208.52 60.15 L209.22 60.43 L209.91 60.71 L210.60 61.00 L211.29 61.30 L211.98 61.60 L212.66 61.90 L213.35 62.21 L214.03 62.53 L214.71 62.84 L215.39 63.16 L216.06 63.49 L216.74 63.81 L217.41 64.14 L218.09 64.47 L218.76 64.81 L219.43 65.14 L220.10 65.47 L220.77 65.81 L221.45 66.14 L222.12 66.47 L222.79 66.80 L223.47 67.13 L224.14 67.45 L224.82 67.78 L225.50 68.09 L226.18 68.41 L226.86 68.72 L227.55 69.03 L228.23 69.33 L228.92 69.64 L229.60 69.94 L230.29 70.24 L230.98 70.55 L231.66 70.85 L232.35 71.15 L233.04 71.46 L233.72 71.76 L234.40 72.08 L235.08 72.39 L235.76 72.71 L236.44 73.03 L237.11 73.36 L237.78 73.69 L238.45 74.03 L239.12 74.37 L239.78 74.71 L240.44 75.06 L241.11 75.41 L241.77 75.77 L242.42 76.13 L243.08 76.49 L243.74 76.86 L244.39 77.22 L245.05 77.59 L245.70 77.96 L246.35 78.33 L247.00 78.71 L247.65 79.08 L248.31 79.45 L248.96 79.82 L249.61 80.20 L250.26 80.57 L250.91 80.94 L251.57 81.32 L252.22 81.69 L252.87 82.06 L253.52 82.44 L254.17 82.82 L254.82 83.19 L255.47 83.57 L256.12 83.96 L256.76 84.34 L257.40 84.73 L258.04 85.13 L258.67 85.53 L259.30 85.93 L259.93 86.34 L260.54 86.76 L261.16 87.19 L261.77 87.62 L262.37 88.06 L262.96 88.51 L263.55 88.97 L264.14 89.44 L264.72 89.91 L265.30 90.38 L265.88 90.86 L266.46 91.33 L267.04 91.81 L267.62 92.29 L268.21 92.76 L268.80 93.22 L269.39 93.68 L269.99 94.14 L270.59 94.59 L271.20 95.04 L271.80 95.48 L272.41 95.93 L273.02 96.37 L273.63 96.81 L274.23 97.26 L274.82 97.71 L275.41 98.17 L276.00 98.64 L276.57 99.12 L277.13 99.60 L277.68 100.10 L278.23 100.61 L278.76 101.13 L279.28 101.66 L279.80 102.20 L280.31 102.75 L280.81 103.30 L281.31 103.86 L281.81 104.42 L282.32 104.98 L282.82 105.54 L283.32 106.10 L283.82 106.66 L284.32 107.22 L284.81 107.78 L285.29 108.35 L285.77 108.92 L286.24 109.50 L286.69 110.09 L287.13 110.69 L287.57 111.30 L287.99 111.92 L288.41 112.54 L288.82 113.17 L289.23 113.80 L289.64 114.43 L290.05 115.06 L290.46 115.69 L290.88 116.31 L291.29 116.94 L291.71 117.56 L292.13 118.19 L292.54 118.81 L292.96 119.43 L293.38 120.05 L293.80 120.67 L294.22 121.29 L294.64 121.92 L295.07 122.54 L295.49 123.16 L295.91 123.78 L296.33 124.39 L296.76 125.01 L297.19 125.63 L297.62 126.24 L298.05 126.86 L298.47 127.47 L298.89 128.09 L299.31 128.71 L299.72 129.34 L300.12 129.97 L300.52 130.60 L300.90 131.25 L301.28 131.89 L301.66 132.54 L302.03 133.19 L302.41 133.84 L302.78 134.49 L303.15 135.14 L303.52 135.79 L303.90 136.44 L304.27 137.10 L304.64 137.75 L305.01 138.40 L305.37 139.05 L305.74 139.71 L306.09 140.37 L306.45 141.03 L306.80 141.69 L307.15 142.36 L307.49 143.02 L307.84 143.69 L308.18 144.35 L308.53 145.02 L308.88 145.68 L309.22 146.35 L309.57 147.01 L309.92 147.68 L310.27 148.34 L310.62 149.01 L310.96 149.67 L311.30 150.34 L311.63 151.01 L311.96 151.69 L312.28 152.36 L312.59 153.04 L312.90 153.73 L313.20 154.41 L313.50 155.10 L313.80 155.79 L314.09 156.48 L314.38 157.17 L314.67 157.86 L314.95 158.56 L315.24 159.25 L315.52 159.95 L315.80 160.64 L316.08 161.34 L316.36 162.04 L316.64 162.73 L316.92 163.43 L317.20 164.12 L317.48 164.82 L317.76 165.52 L318.04 166.21 L318.32 166.91 L318.60 167.60 L318.88 168.30 L319.16 168.99 L319.44 169.69 L319.72 170.38 L320.01 171.08 L320.29 171.77 L320.57 172.47 L320.85 173.16 L321.13 173.86 L321.42 174.55 L321.70 175.25 L321.98 175.94 L322.26 176.64 L322.54 177.33 L322.83 178.03 L323.11 178.72 L323.39 179.42 L323.67 180.11 L323.96 180.80 L324.25 181.50 L324.54 182.19 L324.83 182.88 L325.12 183.57 L325.42 184.26 L325.72 184.95 L326.01 185.64 L326.32 186.32 L326.62 187.01 L326.92 187.70 L327.22 188.38 L327.51 189.07 L327.81 189.76 L328.10 190.45 L328.39 191.14 L328.68 191.84 L328.97 192.53 L329.25 193.22 L329.53 193.92 L329.82 194.61 L330.10 195.31 L330.38 196.00 L330.67 196.70 L330.95 197.39 L331.24 198.08 L331.52 198.78 L331.81 199.47 L332.10 200.16 L332.39 200.85 L332.69 201.54 L332.99 202.23 L333.29 202.92 L333.59 203.60 L333.90 204.28 L334.22 204.96 L334.54 205.64 L334.87 206.31 L335.21 206.98 L335.55 207.65 L335.91 208.31 L336.27 208.96 L336.65 209.61 L337.03 210.25 L337.42 210.89 L337.81 211.53 L338.21 212.16 L338.61 212.80 L339.00 213.43 L339.39 214.07 L339.78 214.72 L340.15 215.36 L340.52 216.01 L340.89 216.67 L341.24 217.33 L341.59 217.99 L341.94 218.66 L342.28 219.33 L342.61 220.00 L342.95 220.67 L343.28 221.34 L343.61 222.02 L343.94 222.69 L344.27 223.37 L344.60 224.04 L344.93 224.71 L345.26 225.39 L345.60 226.06 L345.94 226.72 L346.29 227.38 L346.65 228.04 L347.02 228.69 L347.39 229.34 L347.78 229.98 L348.17 230.62 L348.58 231.25 L348.99 231.87 L349.41 232.49 L349.85 233.10 L350.29 233.71 L350.74 234.31 L351.19 234.90 L351.66 235.49 L352.13 236.07 L352.61 236.65 L353.09 237.22 L353.58 237.79 L354.07 238.36 L354.56 238.93 L355.05 239.50 L355.53 240.07 L356.02 240.64 L356.49 241.22 L356.97 241.80 L357.44 242.38 L357.91 242.96 L358.38 243.55 L358.85 244.14 L359.32 244.72 L359.79 245.31 L360.26 245.89 L360.74 246.47 L361.23 247.04 L361.72 247.60 L362.22 248.16 L362.72 248.70 L363.23 249.23 L363.75 249.74 L364.27 250.23 L364.79 250.69 L365.29 251.12 L365.77 251.51 L366.22 251.87 L366.62 252.17 L366.98 252.43 L368.10 253.20 L382.60 253.20" fill="none" stroke="#ffa500" stroke-width="2.50" stroke-dasharray="2.3 2.55" stroke-linejoin="round"/>
<path d="M57.80 37.20 L59.40 37.27 L59.89 37.29 L60.44 37.32 L61.04 37.35 L61.70 37.38 L62.38 37.41 L63.09 37.45 L63.82 37.48 L64.56 37.52 L65.30 37.56 L66.05 37.60 L66.79 37.64 L67.54 37.68 L68.29 37.73 L69.04 37.77 L69.79 37.82 L70.54 37.86 L71.28 37.91 L72.03 37.96 L72.78 38.01 L73.53 38.05 L74.28 38.10 L75.03 38.15 L75.77 38.21 L76.52 38.26 L77.27 38.31 L78.02 38.36 L78.76 38.42 L79.51 38.48 L80.26 38.53 L81.01 38.59 L81.75 38.65 L82.50 38.71 L83.25 38.78 L84.00 38.84 L84.74 38.91 L85.49 38.98 L86.24 39.05 L86.98 39.12 L87.73 39.19 L88.48 39.27 L89.22 39.34 L89.97 39.42 L90.72 39.49 L91.46 39.57 L92.21 39.64 L92.95 39.72 L93.70 39.79 L94.45 39.87 L95.19 39.94 L95.94 40.01 L96.69 40.08 L97.43 40.15 L98.18 40.22 L98.93 40.29 L99.67 40.36 L100.42 40.42 L101.17 40.48 L101.92 40.54 L102.67 40.60 L103.41 40.66 L104.16 40.72 L104.91 40.78 L105.66 40.83 L106.41 40.89 L107.15 40.95 L107.90 41.00 L108.65 41.06 L109.40 41.12 L110.14 41.18 L110.89 41.24 L111.64 41.31 L112.39 41.37 L113.13 41.45 L113.88 41.52 L114.62 41.60 L115.37 41.68 L116.11 41.76 L116.86 41.85 L117.60 41.94 L118.34 42.04 L119.09 42.14 L119.83 42.25 L120.57 42.35 L121.31 42.46 L122.05 42.57 L122.79 42.69 L123.54 42.80 L124.28 42.92 L125.02 43.03 L125.76 43.15 L126.50 43.26 L127.24 43.38 L127.99 43.49 L128.73 43.60 L129.47 43.71 L130.21 43.82 L130.96 43.92 L131.70 44.03 L132.44 44.13 L133.18 44.24 L133.93 44.34 L134.67 44.44 L135.41 44.54 L136.16 44.64 L136.90 44.74 L137.64 44.84 L138.39 44.94 L139.13 45.04 L139.87 45.14 L140.62 45.23 L141.36 45.33 L142.10 45.43 L142.85 45.52 L143.59 45.61 L144.34 45.71 L145.08 45.80 L145.83 45.89 L146.57 45.98 L147.32 46.07 L148.06 46.16 L148.81 46.25 L149.55 46.33 L150.30 46.42 L151.04 46.51 L151.79 46.60 L152.53 46.68 L153.28 46.77 L154.02 46.87 L154.76 46.96 L155.51 47.05 L156.25 47.15 L156.99 47.25 L157.74 47.35 L158.48 47.45 L159.22 47.56 L159.96 47.67 L160.70 47.78 L161.45 47.90 L162.19 48.01 L162.93 48.14 L163.67 48.26 L164.41 48.39 L165.14 48.52 L165.88 48.65 L166.62 48.78 L167.36 48.92 L168.10 49.05 L168.83 49.19 L169.57 49.34 L170.30 49.48 L171.04 49.63 L171.77 49.78 L172.51 49.93 L173.24 50.08 L173.98 50.24 L174.71 50.40 L175.44 50.56 L176.18 50.72 L176.91 50.88 L177.64 51.04 L178.37 51.20 L179.11 51.36 L179.84 51.52 L180.57 51.68 L181.31 51.84 L182.04 52.00 L182.77 52.16 L183.51 52.32 L184.24 52.48 L184.97 52.64 L185.70 52.80 L186.43 52.97 L187.16 53.14 L187.89 53.32 L188.62 53.50 L189.34 53.69 L190.07 53.88 L190.79 54.08 L191.51 54.28 L192.23 54.49 L192.95 54.71 L193.66 54.93 L194.38 55.15 L195.09 55.38 L195.81 55.61 L196.52 55.85 L197.23 56.08 L197.95 56.31 L198.66 56.55 L199.37 56.78 L200.09 57.01 L200.80 57.24 L201.52 57.47 L202.23 57.69 L202.95 57.92 L203.66 58.15 L204.38 58.37 L205.09 58.60 L205.81 58.83 L206.52 59.06 L207.23 59.30 L207.94 59.54 L208.65 59.78 L209.36 60.03 L210.07 60.28 L210.77 60.53 L211.47 60.79 L212.18 61.05 L212.88 61.31 L213.59 61.57 L214.29 61.82 L215.00 62.08 L215.70 62.33 L216.41 62.57 L217.12 62.81 L217.83 63.05 L218.54 63.29 L219.26 63.52 L219.97 63.75 L220.68 63.99 L221.40 64.22 L222.11 64.45 L222.82 64.69 L223.53 64.93 L224.24 65.17 L224.95 65.42 L225.65 65.67 L226.36 65.93 L227.06 66.19 L227.76 66.45 L228.47 66.72 L229.17 66.99 L229.86 67.27 L230.56 67.54 L231.26 67.82 L231.95 68.11 L232.65 68.40 L233.34 68.69 L234.03 68.98 L234.71 69.28 L235.40 69.58 L236.08 69.89 L236.76 70.20 L237.44 70.52 L238.12 70.84 L238.79 71.17 L239.46 71.50 L240.13 71.83 L240.80 72.17 L241.47 72.52 L242.13 72.86 L242.79 73.22 L243.45 73.57 L244.11 73.93 L244.78 74.28 L245.44 74.64 L246.10 75.00 L246.76 75.36 L247.42 75.71 L248.08 76.07 L248.74 76.42 L249.40 76.77 L250.07 77.12 L250.73 77.47 L251.40 77.81 L252.07 78.16 L252.73 78.50 L253.40 78.84 L254.07 79.18 L254.74 79.53 L255.41 79.87 L256.07 80.21 L256.74 80.56 L257.41 80.90 L258.07 81.25 L258.73 81.60 L259.39 81.96 L260.05 82.31 L260.71 82.67 L261.36 83.04 L262.02 83.40 L262.67 83.77 L263.32 84.15 L263.97 84.52 L264.62 84.91 L265.26 85.29 L265.90 85.68 L266.54 86.07 L267.18 86.47 L267.81 86.87 L268.45 87.27 L269.07 87.68 L269.70 88.10 L270.32 88.52 L270.93 88.95 L271.54 89.38 L272.15 89.82 L272.75 90.27 L273.35 90.72 L273.95 91.17 L274.54 91.63 L275.13 92.10 L275.72 92.56 L276.31 93.03 L276.90 93.50 L277.49 93.97 L278.08 94.44 L278.67 94.92 L279.25 95.39 L279.83 95.87 L280.41 96.35 L280.98 96.84 L281.55 97.33 L282.11 97.83 L282.66 98.33 L283.20 98.84 L283.74 99.36 L284.26 99.89 L284.78 100.42 L285.28 100.96 L285.78 101.52 L286.26 102.08 L286.74 102.65 L287.21 103.23 L287.67 103.82 L288.12 104.42 L288.57 105.02 L289.01 105.62 L289.45 106.23 L289.89 106.85 L290.33 107.46 L290.76 108.08 L291.19 108.69 L291.62 109.31 L292.06 109.93 L292.49 110.54 L292.92 111.16 L293.35 111.78 L293.78 112.39 L294.21 113.01 L294.64 113.62 L295.07 114.23 L295.51 114.84 L295.95 115.45 L296.40 116.05 L296.85 116.65 L297.30 117.24 L297.76 117.83 L298.23 118.42 L298.70 119.01 L299.17 119.59 L299.64 120.17 L300.11 120.76 L300.58 121.34 L301.05 121.93 L301.51 122.52 L301.96 123.11 L302.41 123.71 L302.85 124.32 L303.29 124.93 L303.72 125.54 L304.14 126.16 L304.56 126.78 L304.97 127.40 L305.39 128.03 L305.80 128.65 L306.22 129.28 L306.64 129.90 L307.05 130.53 L307.47 131.15 L307.89 131.78 L308.30 132.40 L308.71 133.03 L309.12 133.66 L309.52 134.29 L309.92 134.92 L310.31 135.56 L310.70 136.20 L311.08 136.85 L311.46 137.49 L311.83 138.15 L312.20 138.80 L312.56 139.45 L312.93 140.11 L313.29 140.76 L313.66 141.42 L314.03 142.07 L314.40 142.72 L314.78 143.37 L315.16 144.02 L315.54 144.66 L315.92 145.31 L316.31 145.95 L316.69 146.60 L317.08 147.24 L317.46 147.89 L317.84 148.53 L318.21 149.18 L318.58 149.83 L318.95 150.49 L319.31 151.14 L319.67 151.80 L320.02 152.47 L320.36 153.13 L320.70 153.80 L321.04 154.47 L321.37 155.14 L321.70 155.81 L322.03 156.49 L322.36 157.16 L322.68 157.84 L323.01 158.52 L323.33 159.19 L323.65 159.87 L323.97 160.55 L324.29 161.23 L324.61 161.91 L324.93 162.59 L325.25 163.26 L325.57 163.94 L325.88 164.62 L326.21 165.30 L326.53 165.98 L326.85 166.65 L327.17 167.33 L327.50 168.01 L327.83 168.68 L328.15 169.36 L328.48 170.03 L328.81 170.70 L329.14 171.38 L329.47 172.05 L329.80 172.73 L330.13 173.40 L330.46 174.07 L330.78 174.75 L331.11 175.43 L331.43 176.10 L331.75 176.78 L332.07 177.46 L332.39 178.14 L332.71 178.82 L333.03 179.50 L333.34 180.18 L333.66 180.86 L333.97 181.54 L334.28 182.22 L334.59 182.90 L334.90 183.59 L335.21 184.27 L335.51 184.96 L335.82 185.64 L336.12 186.33 L336.43 187.01 L336.73 187.70 L337.03 188.38 L337.33 189.07 L337.64 189.76 L337.94 190.45 L338.24 191.13 L338.54 191.82 L338.84 192.51 L339.14 193.20 L339.43 193.89 L339.73 194.57 L340.03 195.26 L340.33 195.95 L340.64 196.63 L340.94 197.32 L341.25 198.00 L341.56 198.69 L341.87 199.37 L342.19 200.05 L342.51 200.72 L342.84 201.40 L343.17 202.07 L343.50 202.74 L343.84 203.41 L344.18 204.08 L344.53 204.74 L344.89 205.40 L345.24 206.06 L345.61 206.72 L345.98 207.37 L346.36 208.02 L346.74 208.66 L347.13 209.30 L347.52 209.94 L347.92 210.57 L348.33 211.20 L348.74 211.83 L349.15 212.46 L349.56 213.08 L349.98 213.70 L350.40 214.33 L350.81 214.95 L351.23 215.58 L351.64 216.21 L352.05 216.83 L352.46 217.46 L352.87 218.09 L353.27 218.73 L353.67 219.36 L354.06 220.00 L354.45 220.64 L354.84 221.28 L355.23 221.92 L355.61 222.57 L355.99 223.21 L356.38 223.85 L356.77 224.49 L357.16 225.12 L357.57 225.74 L357.99 226.36 L358.41 226.98 L358.84 227.59 L359.27 228.19 L359.70 228.80 L360.12 229.42 L360.54 230.03 L360.95 230.66 L361.35 231.29 L361.75 231.93 L362.14 232.56 L362.52 233.21 L362.91 233.85 L363.30 234.49 L363.69 235.13 L364.09 235.77 L364.49 236.41 L364.89 237.04 L365.31 237.66 L365.72 238.29 L366.15 238.91 L366.57 239.52 L367.00 240.14 L367.43 240.76 L367.85 241.37 L368.28 241.99 L368.71 242.61 L369.13 243.23 L369.56 243.85 L369.98 244.47 L370.40 245.09 L370.82 245.71 L371.24 246.33 L371.67 246.95 L372.10 247.56 L372.53 248.16 L372.96 248.75 L373.40 249.33 L373.83 249.88 L374.26 250.41 L374.68 250.90 L375.06 251.35 L375.42 251.75 L375.74 252.10 L376.80 253.20 L382.60 253.20" fill="none" stroke="#ff00ff" stroke-width="2.50" stroke-dasharray="6.4 2.45" stroke-linejoin="round"/>
<path d="M57.80 37.20 L59.40 37.27 L59.89 37.29 L60.44 37.32 L61.04 37.35 L61.70 37.38 L62.38 37.41 L63.09 37.45 L63.82 37.48 L64.56 37.52 L65.30 37.56 L66.05 37.60 L66.79 37.64 L67.54 37.68 L68.29 37.73 L69.04 37.77 L69.79 37.82 L70.54 37.86 L71.28 37.91 L72.03 37.96 L72.78 38.01 L73.53 38.05 L74.28 38.10 L75.03 38.15 L75.77 38.21 L76.52 38.26 L77.27 38.31 L78.02 38.36 L78.76 38.42 L79.51 38.48 L80.26 38.53 L81.01 38.59 L81.75 38.65 L82.50 38.71 L83.25 38.78 L84.00 38.84 L84.74 38.91 L85.49 38.98 L86.24 39.05 L86.98 39.12 L87.73 39.19 L88.48 39.27 L89.22 39.34 L89.97 39.42 L90.72 39.49 L91.46 39.57 L92.21 39.64 L92.95 39.72 L93.70 39.79 L94.45 39.87 L95.19 39.94 L95.94 40.01 L96.69 40.08 L97.43 40.15 L98.18 40.22 L98.93 40.29 L99.67 40.36 L100.42 40.42 L101.17 40.48 L101.92 40.54 L102.67 40.60 L103.41 40.66 L104.16 40.72 L104.91 40.78 L105.66 40.83 L106.41 40.89 L107.15 40.95 L107.90 41.00 L108.65 41.06 L109.40 41.12 L110.14 41.18 L110.89 41.24 L111.64 41.31 L112.39 41.37 L113.13 41.45 L113.88 41.52 L114.62 41.60 L115.37 41.68 L116.11 41.76 L116.86 41.85 L117.60 41.94 L118.34 42.04 L119.09 42.14 L119.83 42.25 L120.57 42.35 L121.31 42.46 L122.05 42.57 L122.79 42.69 L123.54 42.80 L124.28 42.92 L125.02 43.03 L125.76 43.15 L126.50 43.26 L127.24 43.38 L127.99 43.49 L128.73 43.60 L129.47 43.71 L130.21 43.82 L130.96 43.92 L131.70 44.03 L132.44 44.13 L133.18 44.24 L133.93 44.34 L134.67 44.44 L135.41 44.54 L136.16 44.64 L136.90 44.74 L137.64 44.84 L138.39 44.94 L139.13 45.04 L139.87 45.14 L140.62 45.23 L141.36 45.33 L142.10 45.43 L142.85 45.52 L143.59 45.61 L144.34 45.71 L145.08 45.80 L145.83 45.89 L146.57 45.98 L147.32 46.07 L148.06 46.16 L148.81 46.25 L149.55 46.33 L150.30 46.42 L151.04 46.51 L151.79 46.60 L152.53 46.68 L153.28 46.77 L154.02 46.87 L154.76 46.96 L155.51 47.05 L156.25 47.15 L156.99 47.25 L157.74 47.35 L158.48 47.45 L159.22 47.56 L159.96 47.67 L160.70 47.78 L161.45 47.90 L162.19 48.01 L162.93 48.14 L163.67 48.26 L164.41 48.39 L165.14 48.52 L165.88 48.65 L166.62 48.78 L167.36 48.92 L168.10 49.05 L168.83 49.19 L169.57 49.34 L170.30 49.48 L171.04 49.63 L171.77 49.78 L172.51 49.93 L173.24 50.08 L173.98 50.24 L174.71 50.40 L175.44 50.56 L176.18 50.72 L176.91 50.88 L177.64 51.04 L178.37 51.20 L179.11 51.36 L179.84 51.52 L180.57 51.68 L181.31 51.84 L182.04 52.00 L182.77 52.16 L183.51 52.32 L184.24 52.48 L184.97 52.64 L185.70 52.80 L186.43 52.97 L187.16 53.14 L187.89 53.32 L188.62 53.50 L189.34 53.69 L190.07 53.88 L190.79 54.08 L191.51 54.28 L192.23 54.49 L192.95 54.71 L193.66 54.93 L194.38 55.15 L195.09 55.38 L195.81 55.61 L196.52 55.85 L197.23 56.08 L197.95 56.31 L198.66 56.55 L199.37 56.78 L200.09 57.01 L200.80 57.24 L201.52 57.47 L202.23 57.69 L202.95 57.92 L203.66 58.15 L204.38 58.37 L205.09 58.60 L205.81 58.83 L206.52 59.06 L207.23 59.30 L207.94 59.54 L208.65 59.78 L209.36 60.03 L210.07 60.28 L210.77 60.53 L211.47 60.79 L212.18 61.05 L212.88 61.31 L213.59 61.57 L214.29 61.82 L215.00 62.08 L215.70 62.33 L216.41 62.57 L217.12 62.81 L217.83 63.05 L218.54 63.29 L219.26 63.52 L219.97 63.75 L220.68 63.99 L221.40 64.22 L222.11 64.45 L222.82 64.69 L223.53 64.93 L224.24 65.17 L224.95 65.42 L225.65 65.67 L226.36 65.93 L227.06 66.19 L227.76 66.45 L228.47 66.72 L229.17 66.99 L229.86 67.27 L230.56 67.54 L231.26 67.82 L231.95 68.11 L232.65 68.40 L233.34 68.69 L234.03 68.98 L234.71 69.28 L235.40 69.58 L236.08 69.89 L236.76 70.20 L237.44 70.52 L238.12 70.84 L238.79 71.17 L239.46 71.50 L240.13 71.83 L240.80 72.17 L241.47 72.52 L242.13 72.86 L242.79 73.22 L243.45 73.57 L244.11 73.93 L244.78 74.28 L245.44 74.64 L246.10 75.00 L246.76 75.36 L247.42 75.71 L248.08 76.07 L248.74 76.42 L249.40 76.77 L250.07 77.12 L250.73 77.47 L251.40 77.81 L252.07 78.16 L252.73 78.50 L253.40 78.84 L254.07 79.18 L254.74 79.53 L255.41 79.87 L256.07 80.21 L256.74 80.56 L257.41 80.90 L258.07 81.25 L258.73 81.60 L259.39 81.96 L260.05 82.31 L260.71 82.67 L261.36 83.04 L262.02 83.40 L262.67 83.77 L263.32 84.15 L263.97 84.52 L264.62 84.91 L265.26 85.29 L265.90 85.68 L266.54 86.07 L267.18 86.47 L267.81 86.87 L268.45 87.27 L269.07 87.68 L269.70 88.10 L270.32 88.52 L270.93 88.95 L271.54 89.38 L272.15 89.82 L272.75 90.27 L273.35 90.72 L273.95 91.17 L274.54 91.63 L275.13 92.10 L275.72 92.56 L276.31 93.03 L276.90 93.50 L277.49 93.97 L278.08 94.44 L278.67 94.92 L279.25 95.39 L279.83 95.87 L280.41 96.35 L280.98 96.84 L281.55 97.33 L282.11 97.83 L282.66 98.33 L283.20 98.84 L283.74 99.36 L284.26 99.89 L284.78 100.42 L285.28 100.96 L285.78 101.52 L286.26 102.08 L286.74 102.65 L287.21 103.23 L287.67 103.82 L288.12 104.42 L288.57 105.02 L289.01 105.62 L289.45 106.23 L289.89 106.85 L290.33 107.46 L290.76 108.08 L291.19 108.69 L291.62 109.31 L292.06 109.93 L292.49 110.54 L292.92 111.16 L293.35 111.78 L293.78 112.39 L294.21 113.01 L294.64 113.62 L295.07 114.23 L295.51 114.84 L295.95 115.45 L296.40 116.05 L296.85 116.65 L297.30 117.24 L297.76 117.83 L298.23 118.42 L298.70 119.01 L299.17 119.59 L299.64 120.17 L300.11 120.76 L300.58 121.34 L301.05 121.93 L301.51 122.52 L301.96 123.11 L302.41 123.71 L302.85 124.32 L303.29 124.93 L303.72 125.54 L304.14 126.16 L304.56 126.78 L304.97 127.40 L305.39 128.03 L305.80 128.65 L306.22 129.28 L306.64 129.90 L307.05 130.53 L307.47 131.15 L307.89 131.78 L308.30 132.40 L308.71 133.03 L309.12 133.66 L309.52 134.29 L309.92 134.92 L310.31 135.56 L310.70 136.20 L311.08 136.85 L311.45 137.50 L311.82 138.15 L312.19 138.80 L312.56 139.45 L312.93 140.11 L313.29 140.76 L313.66 141.41 L314.04 142.07 L314.42 142.71 L314.80 143.36 L315.18 144.00 L315.57 144.64 L315.97 145.28 L316.36 145.92 L316.76 146.56 L317.15 147.20 L317.55 147.83 L317.94 148.47 L318.32 149.11 L318.71 149.76 L319.08 150.41 L319.45 151.06 L319.82 151.71 L320.18 152.37 L320.53 153.03 L320.88 153.69 L321.23 154.36 L321.57 155.02 L321.91 155.69 L322.24 156.36 L322.58 157.04 L322.91 157.71 L323.25 158.38 L323.58 159.05 L323.91 159.72 L324.25 160.40 L324.58 161.07 L324.91 161.74 L325.24 162.41 L325.58 163.09 L325.91 163.76 L326.24 164.43 L326.57 165.11 L326.89 165.78 L327.22 166.46 L327.54 167.13 L327.87 167.81 L328.19 168.49 L328.51 169.17 L328.83 169.84 L329.15 170.52 L329.46 171.20 L329.78 171.88 L330.10 172.56 L330.42 173.24 L330.73 173.92 L331.05 174.60 L331.37 175.28 L331.69 175.96 L332.01 176.63 L332.33 177.31 L332.65 177.99 L332.98 178.67 L333.30 179.34 L333.62 180.02 L333.94 180.70 L334.27 181.38 L334.59 182.05 L334.91 182.73 L335.23 183.41 L335.54 184.09 L335.86 184.77 L336.18 185.45 L336.50 186.13 L336.82 186.81 L337.14 187.49 L337.46 188.16 L337.78 188.84 L338.11 189.52 L338.43 190.19 L338.76 190.86 L339.10 191.53 L339.44 192.20 L339.78 192.87 L340.12 193.54 L340.46 194.21 L340.81 194.87 L341.17 195.53 L341.52 196.19 L341.88 196.85 L342.24 197.51 L342.61 198.16 L342.98 198.82 L343.35 199.47 L343.73 200.11 L344.11 200.76 L344.50 201.40 L344.89 202.04 L345.29 202.67 L345.69 203.31 L346.09 203.94 L346.50 204.57 L346.91 205.20 L347.32 205.82 L347.74 206.45 L348.15 207.07 L348.57 207.69 L348.99 208.31 L349.41 208.94 L349.84 209.56 L350.26 210.18 L350.68 210.80 L351.10 211.41 L351.53 212.03 L351.95 212.65 L352.37 213.27 L352.80 213.89 L353.22 214.51 L353.63 215.14 L354.05 215.76 L354.47 216.38 L354.88 217.01 L355.29 217.64 L355.70 218.26 L356.11 218.89 L356.51 219.53 L356.92 220.16 L357.32 220.79 L357.72 221.43 L358.11 222.06 L358.51 222.70 L358.90 223.34 L359.29 223.98 L359.69 224.61 L360.09 225.25 L360.49 225.88 L360.90 226.51 L361.31 227.13 L361.73 227.75 L362.16 228.37 L362.59 228.98 L363.03 229.59 L363.47 230.20 L363.91 230.80 L364.36 231.40 L364.81 232.01 L365.25 232.61 L365.70 233.21 L366.15 233.81 L366.60 234.42 L367.05 235.02 L367.49 235.62 L367.94 236.22 L368.39 236.83 L368.83 237.43 L369.28 238.03 L369.72 238.64 L370.16 239.25 L370.60 239.85 L371.04 240.46 L371.47 241.07 L371.90 241.69 L372.33 242.30 L372.76 242.92 L373.19 243.53 L373.61 244.15 L374.03 244.77 L374.45 245.40 L374.86 246.02 L375.27 246.64 L375.68 247.27 L376.08 247.89 L376.48 248.50 L376.86 249.11 L377.23 249.69 L377.59 250.26 L377.92 250.78 L378.22 251.27 L378.48 251.70 L378.71 252.07 L379.40 253.20" fill="none" stroke="#00ff00" stroke-width="2.50" stroke-dasharray="10.6 2.5 2.0 2.5" stroke-linejoin="round"/>
<path d="M44.07 263.90 v-4.10 M44.07 25.70 v4.10 M58.18 263.90 v-4.10 M58.18 25.70 v4.10 M72.30 263.90 v-6.80 M72.30 25.70 v6.80 M86.42 263.90 v-4.10 M86.42 25.70 v4.10 M100.53 263.90 v-4.10 M100.53 25.70 v4.10 M114.64 263.90 v-4.10 M114.64 25.70 v4.10 M128.76 263.90 v-4.10 M128.76 25.70 v4.10 M142.88 263.90 v-6.80 M142.88 25.70 v6.80 M156.99 263.90 v-4.10 M156.99 25.70 v4.10 M171.10 263.90 v-4.10 M171.10 25.70 v4.10 M185.22 263.90 v-4.10 M185.22 25.70 v4.10 M199.33 263.90 v-4.10 M199.33 25.70 v4.10 M213.45 263.90 v-6.80 M213.45 25.70 v6.80 M227.56 263.90 v-4.10 M227.56 25.70 v4.10 M241.68 263.90 v-4.10 M241.68 25.70 v4.10 M255.80 263.90 v-4.10 M255.80 25.70 v4.10 M269.91 263.90 v-4.10 M269.91 25.70 v4.10 M284.03 263.90 v-6.80 M284.03 25.70 v6.80 M298.14 263.90 v-4.10 M298.14 25.70 v4.10 M312.25 263.90 v-4.10 M312.25 25.70 v4.10 M326.37 263.90 v-4.10 M326.37 25.70 v4.10 M340.49 263.90 v-4.10 M340.49 25.70 v4.10 M354.60 263.90 v-6.80 M354.60 25.70 v6.80 M368.72 263.90 v-4.10 M368.72 25.70 v4.10 M382.83 263.90 v-4.10 M382.83 25.70 v4.10 M396.94 263.90 v-4.10 M396.94 25.70 v4.10 M41.70 253.30 h6.80 M399.10 253.30 h-6.80 M41.70 242.44 h4.10 M399.10 242.44 h-4.10 M41.70 231.57 h4.10 M399.10 231.57 h-4.10 M41.70 220.71 h4.10 M399.10 220.71 h-4.10 M41.70 209.84 h6.80 M399.10 209.84 h-6.80 M41.70 198.98 h4.10 M399.10 198.98 h-4.10 M41.70 188.11 h4.10 M399.10 188.11 h-4.10 M41.70 177.25 h4.10 M399.10 177.25 h-4.10 M41.70 166.38 h6.80 M399.10 166.38 h-6.80 M41.70 155.51 h4.10 M399.10 155.51 h-4.10 M41.70 144.65 h4.10 M399.10 144.65 h-4.10 M41.70 133.78 h4.10 M399.10 133.78 h-4.10 M41.70 122.92 h6.80 M399.10 122.92 h-6.80 M41.70 112.06 h4.10 M399.10 112.06 h-4.10 M41.70 101.19 h4.10 M399.10 101.19 h-4.10 M41.70 90.32 h4.10 M399.10 90.32 h-4.10 M41.70 79.46 h6.80 M399.10 79.46 h-6.80 M41.70 68.59 h4.10 M399.10 68.59 h-4.10 M41.70 57.73 h4.10 M399.10 57.73 h-4.10 M41.70 46.86 h4.10 M399.10 46.86 h-4.10 M41.70 36.00 h6.80 M399.10 36.00 h-6.80" stroke="#000" stroke-width="1.15" fill="none"/>
<rect x="41.70" y="25.70" width="357.40" height="238.20" fill="none" stroke="#000" stroke-width="1.3"/>
<text x="24.00" y="257.20" font-size="12.00" font-family="'Liberation Serif', 'DejaVu Serif', serif" fill="#1c1c1c" textLength="13.60" lengthAdjust="spacingAndGlyphs">0.0</text>
<text x="24.00" y="213.74" font-size="12.00" font-family="'Liberation Serif', 'DejaVu Serif', serif" fill="#1c1c1c" textLength="13.60" lengthAdjust="spacingAndGlyphs">0.2</text>
<text x="24.00" y="170.28" font-size="12.00" font-family="'Liberation Serif', 'DejaVu Serif', serif" fill="#1c1c1c" textLength="13.60" lengthAdjust="spacingAndGlyphs">0.4</text>
<text x="24.00" y="126.82" font-size="12.00" font-family="'Liberation Serif', 'DejaVu Serif', serif" fill="#1c1c1c" textLength="13.60" lengthAdjust="spacingAndGlyphs">0.6</text>
<text x="24.00" y="83.36" font-size="12.00" font-family="'Liberation Serif', 'DejaVu Serif', serif" fill="#1c1c1c" textLength="13.60" lengthAdjust="spacingAndGlyphs">0.8</text>
<text x="25.10" y="39.90" font-size="12.00" font-family="'Liberation Serif', 'DejaVu Serif', serif" fill="#1c1c1c" textLength="12.50" lengthAdjust="spacingAndGlyphs">1.0</text>
<text x="61.80" y="276.00" font-size="12.00" font-family="'Liberation Serif', 'DejaVu Serif', serif" fill="#1c1c1c" textLength="21.39" lengthAdjust="spacingAndGlyphs">−2.5</text>
<text x="132.38" y="276.00" font-size="12.00" font-family="'Liberation Serif', 'DejaVu Serif', serif" fill="#1c1c1c" textLength="21.39" lengthAdjust="spacingAndGlyphs">−2.0</text>
<text x="202.95" y="276.00" font-size="12.00" font-family="'Liberation Serif', 'DejaVu Serif', serif" fill="#1c1c1c" textLength="21.39" lengthAdjust="spacingAndGlyphs">−1.5</text>
<text x="273.53" y="276.00" font-size="12.00" font-family="'Liberation Serif', 'DejaVu Serif', serif" fill="#1c1c1c" textLength="21.39" lengthAdjust="spacingAndGlyphs">−1.0</text>
<text x="344.10" y="276.00" font-size="12.00" font-family="'Liberation Serif', 'DejaVu Serif', serif" fill="#1c1c1c" textLength="21.39" lengthAdjust="spacingAndGlyphs">−0.5</text>
<text x="189.50" y="291.80" font-size="14.00" font-family="'Liberation Serif', 'DejaVu Serif', serif" fill="#1c1c1c" textLength="14.97" lengthAdjust="spacingAndGlyphs">log</text>
<text x="208.00" y="291.80" font-size="14.00" font-family="'Liberation Serif', 'DejaVu Serif', serif" fill="#1c1c1c" font-style="italic" textLength="4.72" lengthAdjust="spacingAndGlyphs">t</text>
<text x="219.00" y="291.80" font-size="14.00" font-family="'Liberation Serif', 'DejaVu Serif', serif" fill="#1c1c1c" textLength="32.28" lengthAdjust="spacingAndGlyphs">(Myr)</text>
<g transform="translate(14.6,0) rotate(-90)">
<text x="-150.80" y="0.00" font-size="14.00" font-family="'Liberation Serif', 'DejaVu Serif', serif" fill="#1c1c1c" font-style="italic" textLength="4.50" lengthAdjust="spacingAndGlyphs">f</text>
<text x="-144.90" y="2.80" font-size="9.40" font-family="'Liberation Serif', 'DejaVu Serif', serif" fill="#1c1c1c" textLength="6.01" lengthAdjust="spacingAndGlyphs">cl</text>
</g>
<text x="52.20" y="16.30" font-size="14.00" font-family="'Liberation Serif', 'DejaVu Serif', serif" fill="#1c1c1c" font-style="italic" textLength="8.43" lengthAdjust="spacingAndGlyphs">T</text>
<text x="60.80" y="18.90" font-size="9.40" font-family="'Liberation Serif', 'DejaVu Serif', serif" fill="#1c1c1c" textLength="4.40" lengthAdjust="spacingAndGlyphs">h</text>
<text x="70.90" y="16.30" font-size="14.00" font-family="'Liberation Serif', 'DejaVu Serif', serif" fill="#1c1c1c" textLength="8.68" lengthAdjust="spacingAndGlyphs">=</text>
<text x="85.90" y="16.30" font-size="14.00" font-family="'Liberation Serif', 'DejaVu Serif', serif" fill="#1c1c1c" textLength="11.10" lengthAdjust="spacingAndGlyphs">10</text>
<text x="97.80" y="12.30" font-size="9.40" font-family="'Liberation Serif', 'DejaVu Serif', serif" fill="#1c1c1c" textLength="5.50" lengthAdjust="spacingAndGlyphs">6</text>
<text x="108.90" y="16.30" font-size="14.00" font-family="'Liberation Serif', 'DejaVu Serif', serif" fill="#1c1c1c" textLength="7.42" lengthAdjust="spacingAndGlyphs">K</text>
<text x="118.20" y="16.30" font-size="14.00" font-family="'Liberation Serif', 'DejaVu Serif', serif" fill="#1c1c1c" textLength="1.60" lengthAdjust="spacingAndGlyphs">,</text>
<text x="124.10" y="16.30" font-size="14.00" font-family="'Liberation Serif', 'DejaVu Serif', serif" fill="#1c1c1c" font-style="italic" textLength="6.18" lengthAdjust="spacingAndGlyphs">v</text>
<text x="131.00" y="18.90" font-size="9.40" font-family="'Liberation Serif', 'DejaVu Serif', serif" fill="#1c1c1c" textLength="7.22" lengthAdjust="spacingAndGlyphs">cl</text>
<text x="142.00" y="16.30" font-size="14.00" font-family="'Liberation Serif', 'DejaVu Serif', serif" fill="#1c1c1c" textLength="8.58" lengthAdjust="spacingAndGlyphs">=</text>
<text x="157.40" y="16.30" font-size="14.00" font-family="'Liberation Serif', 'DejaVu Serif', serif" fill="#1c1c1c" textLength="18.10" lengthAdjust="spacingAndGlyphs">100</text>
<text x="179.20" y="16.30" font-size="14.00" font-family="'Liberation Serif', 'DejaVu Serif', serif" fill="#1c1c1c" textLength="17.67" lengthAdjust="spacingAndGlyphs">km</text>
<text x="202.80" y="16.30" font-size="14.00" font-family="'Liberation Serif', 'DejaVu Serif', serif" fill="#1c1c1c" textLength="4.79" lengthAdjust="spacingAndGlyphs">s</text>
<text x="208.60" y="12.30" font-size="9.40" font-family="'Liberation Serif', 'DejaVu Serif', serif" fill="#1c1c1c" textLength="11.99" lengthAdjust="spacingAndGlyphs">−1</text>
<text x="223.00" y="16.30" font-size="14.00" font-family="'Liberation Serif', 'DejaVu Serif', serif" fill="#1c1c1c" textLength="1.60" lengthAdjust="spacingAndGlyphs">,</text>
<text x="230.58" y="16.30" font-size="14.00" font-family="'Liberation Serif', 'DejaVu Serif', serif" fill="#1c1c1c" font-style="italic" textLength="6.73" lengthAdjust="spacingAndGlyphs">L</text>
<text x="237.90" y="18.90" font-size="9.40" font-family="'Liberation Serif', 'DejaVu Serif', serif" fill="#1c1c1c" textLength="7.22" lengthAdjust="spacingAndGlyphs">cl</text>
<text x="251.60" y="16.30" font-size="14.00" font-family="'Liberation Serif', 'DejaVu Serif', serif" fill="#1c1c1c" textLength="8.58" lengthAdjust="spacingAndGlyphs">=</text>
<text x="267.20" y="16.30" font-size="14.00" font-family="'Liberation Serif', 'DejaVu Serif', serif" fill="#1c1c1c" textLength="4.50" lengthAdjust="spacingAndGlyphs">1</text>
<text x="275.40" y="16.30" font-size="14.00" font-family="'Liberation Serif', 'DejaVu Serif', serif" fill="#1c1c1c" textLength="12.28" lengthAdjust="spacingAndGlyphs">pc</text>
<text x="288.90" y="16.30" font-size="14.00" font-family="'Liberation Serif', 'DejaVu Serif', serif" fill="#1c1c1c" textLength="1.60" lengthAdjust="spacingAndGlyphs">,</text>
<text x="295.80" y="16.30" font-size="14.00" font-family="'Liberation Serif', 'DejaVu Serif', serif" fill="#1c1c1c" font-style="italic" textLength="7.30" lengthAdjust="spacingAndGlyphs">n</text>
<text x="303.60" y="18.90" font-size="9.40" font-family="'Liberation Serif', 'DejaVu Serif', serif" fill="#1c1c1c" textLength="5.70" lengthAdjust="spacingAndGlyphs">h</text>
<text x="314.60" y="16.30" font-size="14.00" font-family="'Liberation Serif', 'DejaVu Serif', serif" fill="#1c1c1c" textLength="8.68" lengthAdjust="spacingAndGlyphs">=</text>
<text x="330.00" y="16.30" font-size="14.00" font-family="'Liberation Serif', 'DejaVu Serif', serif" fill="#1c1c1c" textLength="10.90" lengthAdjust="spacingAndGlyphs">10</text>
<text x="341.60" y="12.30" font-size="9.40" font-family="'Liberation Serif', 'DejaVu Serif', serif" fill="#1c1c1c" textLength="11.89" lengthAdjust="spacingAndGlyphs">−3</text>
<text x="358.10" y="16.30" font-size="14.00" font-family="'Liberation Serif', 'DejaVu Serif', serif" fill="#1c1c1c" textLength="16.52" lengthAdjust="spacingAndGlyphs">cm</text>
<text x="375.30" y="12.30" font-size="9.40" font-family="'Liberation Serif', 'DejaVu Serif', serif" fill="#1c1c1c" textLength="12.59" lengthAdjust="spacingAndGlyphs">−3</text>
<path d="M51.15 134.90 H73.90" stroke="#000" stroke-width="2.5" stroke-dasharray="2.3 2.55" fill="none"/>
<path d="M51.15 150.20 H73.90" stroke="#0000ff" stroke-width="2.5" stroke-dasharray="6.4 2.45" fill="none"/>
<path d="M51.15 165.30 H73.90" stroke="#008000" stroke-width="2.5" stroke-dasharray="10.6 2.5 2.0 2.5" fill="none"/>
<path d="M51.15 180.40 H73.90" stroke="#ff0000" stroke-width="2.5" stroke-dasharray="10.6 2.5 2.0 2.5" fill="none"/>
<path d="M51.15 195.60 H73.90" stroke="#ffa500" stroke-width="2.5" stroke-dasharray="2.3 2.55" fill="none"/>
<path d="M51.15 217.20 H73.90" stroke="#ff00ff" stroke-width="2.5" stroke-dasharray="6.4 2.45" fill="none"/>
<path d="M51.15 243.90 H73.90" stroke="#00ff00" stroke-width="2.5" stroke-dasharray="10.6 2.5 2.0 2.5" fill="none"/>
<text x="82.00" y="138.70" font-size="11.30" font-family="'Liberation Serif', 'DejaVu Serif', serif" fill="#1c1c1c" textLength="29.60" lengthAdjust="spacingAndGlyphs">Hydro</text>
<text x="82.00" y="153.75" font-size="11.30" font-family="'Liberation Serif', 'DejaVu Serif', serif" fill="#1c1c1c" textLength="29.60" lengthAdjust="spacingAndGlyphs">Hydro</text>
<text x="116.30" y="154.65" font-size="12.60" font-family="'Liberation Serif', 'DejaVu Serif', serif" fill="#1c1c1c" textLength="7.09" lengthAdjust="spacingAndGlyphs">+</text>
<text x="127.50" y="153.75" font-size="11.30" font-family="'Liberation Serif', 'DejaVu Serif', serif" fill="#1c1c1c" textLength="36.37" lengthAdjust="spacingAndGlyphs">Cooling</text>
<text x="82.00" y="168.90" font-size="11.30" font-family="'Liberation Serif', 'DejaVu Serif', serif" fill="#1c1c1c" textLength="25.78" lengthAdjust="spacingAndGlyphs">MHD</text>
<text x="112.60" y="169.80" font-size="12.60" font-family="'Liberation Serif', 'DejaVu Serif', serif" fill="#1c1c1c" textLength="7.59" lengthAdjust="spacingAndGlyphs">+</text>
<text x="124.50" y="168.90" font-size="11.30" font-family="'Liberation Serif', 'DejaVu Serif', serif" fill="#1c1c1c" textLength="36.37" lengthAdjust="spacingAndGlyphs">Cooling</text>
<text x="82.00" y="184.10" font-size="11.30" font-family="'Liberation Serif', 'DejaVu Serif', serif" fill="#1c1c1c" textLength="25.78" lengthAdjust="spacingAndGlyphs">MHD</text>
<text x="112.60" y="185.00" font-size="12.60" font-family="'Liberation Serif', 'DejaVu Serif', serif" fill="#1c1c1c" textLength="7.59" lengthAdjust="spacingAndGlyphs">+</text>
<text x="124.50" y="184.10" font-size="11.30" font-family="'Liberation Serif', 'DejaVu Serif', serif" fill="#1c1c1c" textLength="36.37" lengthAdjust="spacingAndGlyphs">Cooling</text>
<text x="164.70" y="185.00" font-size="12.60" font-family="'Liberation Serif', 'DejaVu Serif', serif" fill="#1c1c1c" textLength="7.49" lengthAdjust="spacingAndGlyphs">+</text>
<text x="176.40" y="184.10" font-size="11.30" font-family="'Liberation Serif', 'DejaVu Serif', serif" fill="#1c1c1c" textLength="54.92" lengthAdjust="spacingAndGlyphs">Conduction</text>
<text x="82.00" y="198.90" font-size="11.30" font-family="'Liberation Serif', 'DejaVu Serif', serif" fill="#1c1c1c" textLength="25.78" lengthAdjust="spacingAndGlyphs">MHD</text>
<text x="112.60" y="199.80" font-size="12.60" font-family="'Liberation Serif', 'DejaVu Serif', serif" fill="#1c1c1c" textLength="7.59" lengthAdjust="spacingAndGlyphs">+</text>
<text x="124.50" y="198.90" font-size="11.30" font-family="'Liberation Serif', 'DejaVu Serif', serif" fill="#1c1c1c" textLength="36.37" lengthAdjust="spacingAndGlyphs">Cooling</text>
<text x="164.70" y="199.80" font-size="12.60" font-family="'Liberation Serif', 'DejaVu Serif', serif" fill="#1c1c1c" textLength="7.49" lengthAdjust="spacingAndGlyphs">+</text>
<text x="176.40" y="198.90" font-size="11.30" font-family="'Liberation Serif', 'DejaVu Serif', serif" fill="#1c1c1c" textLength="54.92" lengthAdjust="spacingAndGlyphs">Conduction</text>
<text x="235.90" y="199.80" font-size="12.60" font-family="'Liberation Serif', 'DejaVu Serif', serif" fill="#1c1c1c" textLength="7.19" lengthAdjust="spacingAndGlyphs">+</text>
<text x="248.30" y="198.90" font-size="11.30" font-family="'Liberation Serif', 'DejaVu Serif', serif" fill="#1c1c1c" textLength="41.47" lengthAdjust="spacingAndGlyphs">Viscosity</text>
<text x="82.00" y="213.70" font-size="11.30" font-family="'Liberation Serif', 'DejaVu Serif', serif" fill="#1c1c1c" textLength="25.78" lengthAdjust="spacingAndGlyphs">MHD</text>
<text x="112.60" y="214.60" font-size="12.60" font-family="'Liberation Serif', 'DejaVu Serif', serif" fill="#1c1c1c" textLength="7.59" lengthAdjust="spacingAndGlyphs">+</text>
<text x="124.50" y="213.70" font-size="11.30" font-family="'Liberation Serif', 'DejaVu Serif', serif" fill="#1c1c1c" textLength="36.37" lengthAdjust="spacingAndGlyphs">Cooling</text>
<text x="164.70" y="214.60" font-size="12.60" font-family="'Liberation Serif', 'DejaVu Serif', serif" fill="#1c1c1c" textLength="7.49" lengthAdjust="spacingAndGlyphs">+</text>
<text x="176.40" y="213.70" font-size="11.30" font-family="'Liberation Serif', 'DejaVu Serif', serif" fill="#1c1c1c" textLength="54.92" lengthAdjust="spacingAndGlyphs">Conduction</text>
<text x="235.90" y="214.60" font-size="12.60" font-family="'Liberation Serif', 'DejaVu Serif', serif" fill="#1c1c1c" textLength="7.19" lengthAdjust="spacingAndGlyphs">+</text>
<text x="248.30" y="213.70" font-size="11.30" font-family="'Liberation Serif', 'DejaVu Serif', serif" fill="#1c1c1c" textLength="41.47" lengthAdjust="spacingAndGlyphs">Viscosity</text>
<text x="82.30" y="226.20" font-size="12.60" font-family="'Liberation Serif', 'DejaVu Serif', serif" fill="#1c1c1c" textLength="7.59" lengthAdjust="spacingAndGlyphs">+</text>
<text x="92.90" y="225.30" font-size="11.30" font-family="'Liberation Serif', 'DejaVu Serif', serif" fill="#1c1c1c" textLength="63.70" lengthAdjust="spacingAndGlyphs">Self-shielding</text>
<text x="82.00" y="240.00" font-size="11.30" font-family="'Liberation Serif', 'DejaVu Serif', serif" fill="#1c1c1c" textLength="25.78" lengthAdjust="spacingAndGlyphs">MHD</text>
<text x="112.60" y="240.90" font-size="12.60" font-family="'Liberation Serif', 'DejaVu Serif', serif" fill="#1c1c1c" textLength="7.59" lengthAdjust="spacingAndGlyphs">+</text>
<text x="124.50" y="240.00" font-size="11.30" font-family="'Liberation Serif', 'DejaVu Serif', serif" fill="#1c1c1c" textLength="36.37" lengthAdjust="spacingAndGlyphs">Cooling</text>
<text x="164.70" y="240.90" font-size="12.60" font-family="'Liberation Serif', 'DejaVu Serif', serif" fill="#1c1c1c" textLength="7.49" lengthAdjust="spacingAndGlyphs">+</text>
<text x="176.40" y="240.00" font-size="11.30" font-family="'Liberation Serif', 'DejaVu Serif', serif" fill="#1c1c1c" textLength="54.92" lengthAdjust="spacingAndGlyphs">Conduction</text>
<text x="235.90" y="240.90" font-size="12.60" font-family="'Liberation Serif', 'DejaVu Serif', serif" fill="#1c1c1c" textLength="7.19" lengthAdjust="spacingAndGlyphs">+</text>
<text x="248.30" y="240.00" font-size="11.30" font-family="'Liberation Serif', 'DejaVu Serif', serif" fill="#1c1c1c" textLength="41.47" lengthAdjust="spacingAndGlyphs">Viscosity</text>
<text x="82.30" y="252.70" font-size="12.60" font-family="'Liberation Serif', 'DejaVu Serif', serif" fill="#1c1c1c" textLength="7.59" lengthAdjust="spacingAndGlyphs">+</text>
<text x="92.90" y="251.80" font-size="11.30" font-family="'Liberation Serif', 'DejaVu Serif', serif" fill="#1c1c1c" textLength="63.70" lengthAdjust="spacingAndGlyphs">Self-shielding</text>
<text x="161.20" y="252.70" font-size="12.60" font-family="'Liberation Serif', 'DejaVu Serif', serif" fill="#1c1c1c" textLength="7.29" lengthAdjust="spacingAndGlyphs">+</text>
<text x="173.50" y="251.80" font-size="11.30" font-family="'Liberation Serif', 'DejaVu Serif', serif" fill="#1c1c1c" textLength="53.12" lengthAdjust="spacingAndGlyphs">Self-gravity</text>
</svg>
</body></html>
